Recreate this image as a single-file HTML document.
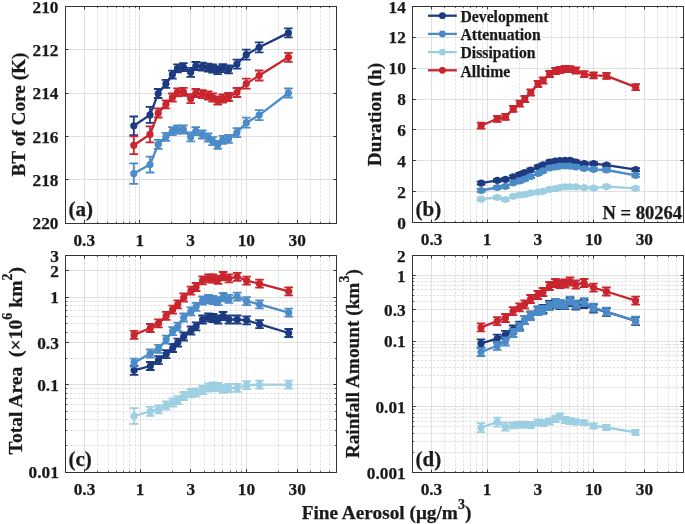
<!DOCTYPE html>
<html><head><meta charset="utf-8"><style>
html,body{margin:0;padding:0;background:#fff;width:685px;height:524px;overflow:hidden}
svg{display:block;filter:blur(0.35px)}
text{font-family:"Liberation Serif",serif;font-weight:bold;fill:#1a1a1a;stroke:#1a1a1a;stroke-width:0.25px}
.tk{font-size:17.3px}
.yl{font-size:19.3px}
.pl{font-size:21px}
.lg{font-size:15.7px}
</style></head><body>
<svg width="685" height="524" viewBox="0 0 685 524"><rect width="685" height="524" fill="#fff"/><line x1="97.50" y1="6.4" x2="97.50" y2="223.0" stroke="#d4d4d4" stroke-width="0.7" stroke-dasharray="2.5 1.5"/>
<line x1="97.50" y1="223.0" x2="97.50" y2="221.5" stroke="#333333" stroke-width="0.8"/>
<line x1="97.50" y1="6.4" x2="97.50" y2="7.9" stroke="#333333" stroke-width="0.8"/>
<line x1="107.50" y1="6.4" x2="107.50" y2="223.0" stroke="#d4d4d4" stroke-width="0.7" stroke-dasharray="2.5 1.5"/>
<line x1="107.50" y1="223.0" x2="107.50" y2="221.5" stroke="#333333" stroke-width="0.8"/>
<line x1="107.50" y1="6.4" x2="107.50" y2="7.9" stroke="#333333" stroke-width="0.8"/>
<line x1="116.50" y1="6.4" x2="116.50" y2="223.0" stroke="#d4d4d4" stroke-width="0.7" stroke-dasharray="2.5 1.5"/>
<line x1="116.50" y1="223.0" x2="116.50" y2="221.5" stroke="#333333" stroke-width="0.8"/>
<line x1="116.50" y1="6.4" x2="116.50" y2="7.9" stroke="#333333" stroke-width="0.8"/>
<line x1="123.50" y1="6.4" x2="123.50" y2="223.0" stroke="#d4d4d4" stroke-width="0.7" stroke-dasharray="2.5 1.5"/>
<line x1="123.50" y1="223.0" x2="123.50" y2="221.5" stroke="#333333" stroke-width="0.8"/>
<line x1="123.50" y1="6.4" x2="123.50" y2="7.9" stroke="#333333" stroke-width="0.8"/>
<line x1="129.50" y1="6.4" x2="129.50" y2="223.0" stroke="#d4d4d4" stroke-width="0.7" stroke-dasharray="2.5 1.5"/>
<line x1="129.50" y1="223.0" x2="129.50" y2="221.5" stroke="#333333" stroke-width="0.8"/>
<line x1="129.50" y1="6.4" x2="129.50" y2="7.9" stroke="#333333" stroke-width="0.8"/>
<line x1="135.50" y1="6.4" x2="135.50" y2="223.0" stroke="#d4d4d4" stroke-width="0.7" stroke-dasharray="2.5 1.5"/>
<line x1="135.50" y1="223.0" x2="135.50" y2="221.5" stroke="#333333" stroke-width="0.8"/>
<line x1="135.50" y1="6.4" x2="135.50" y2="7.9" stroke="#333333" stroke-width="0.8"/>
<line x1="171.50" y1="6.4" x2="171.50" y2="223.0" stroke="#d4d4d4" stroke-width="0.7" stroke-dasharray="2.5 1.5"/>
<line x1="171.50" y1="223.0" x2="171.50" y2="221.5" stroke="#333333" stroke-width="0.8"/>
<line x1="171.50" y1="6.4" x2="171.50" y2="7.9" stroke="#333333" stroke-width="0.8"/>
<line x1="203.50" y1="6.4" x2="203.50" y2="223.0" stroke="#d4d4d4" stroke-width="0.7" stroke-dasharray="2.5 1.5"/>
<line x1="203.50" y1="223.0" x2="203.50" y2="221.5" stroke="#333333" stroke-width="0.8"/>
<line x1="203.50" y1="6.4" x2="203.50" y2="7.9" stroke="#333333" stroke-width="0.8"/>
<line x1="214.50" y1="6.4" x2="214.50" y2="223.0" stroke="#d4d4d4" stroke-width="0.7" stroke-dasharray="2.5 1.5"/>
<line x1="214.50" y1="223.0" x2="214.50" y2="221.5" stroke="#333333" stroke-width="0.8"/>
<line x1="214.50" y1="6.4" x2="214.50" y2="7.9" stroke="#333333" stroke-width="0.8"/>
<line x1="222.50" y1="6.4" x2="222.50" y2="223.0" stroke="#d4d4d4" stroke-width="0.7" stroke-dasharray="2.5 1.5"/>
<line x1="222.50" y1="223.0" x2="222.50" y2="221.5" stroke="#333333" stroke-width="0.8"/>
<line x1="222.50" y1="6.4" x2="222.50" y2="7.9" stroke="#333333" stroke-width="0.8"/>
<line x1="229.50" y1="6.4" x2="229.50" y2="223.0" stroke="#d4d4d4" stroke-width="0.7" stroke-dasharray="2.5 1.5"/>
<line x1="229.50" y1="223.0" x2="229.50" y2="221.5" stroke="#333333" stroke-width="0.8"/>
<line x1="229.50" y1="6.4" x2="229.50" y2="7.9" stroke="#333333" stroke-width="0.8"/>
<line x1="236.50" y1="6.4" x2="236.50" y2="223.0" stroke="#d4d4d4" stroke-width="0.7" stroke-dasharray="2.5 1.5"/>
<line x1="236.50" y1="223.0" x2="236.50" y2="221.5" stroke="#333333" stroke-width="0.8"/>
<line x1="236.50" y1="6.4" x2="236.50" y2="7.9" stroke="#333333" stroke-width="0.8"/>
<line x1="241.50" y1="6.4" x2="241.50" y2="223.0" stroke="#d4d4d4" stroke-width="0.7" stroke-dasharray="2.5 1.5"/>
<line x1="241.50" y1="223.0" x2="241.50" y2="221.5" stroke="#333333" stroke-width="0.8"/>
<line x1="241.50" y1="6.4" x2="241.50" y2="7.9" stroke="#333333" stroke-width="0.8"/>
<line x1="278.50" y1="6.4" x2="278.50" y2="223.0" stroke="#d4d4d4" stroke-width="0.7" stroke-dasharray="2.5 1.5"/>
<line x1="278.50" y1="223.0" x2="278.50" y2="221.5" stroke="#333333" stroke-width="0.8"/>
<line x1="278.50" y1="6.4" x2="278.50" y2="7.9" stroke="#333333" stroke-width="0.8"/>
<line x1="310.50" y1="6.4" x2="310.50" y2="223.0" stroke="#d4d4d4" stroke-width="0.7" stroke-dasharray="2.5 1.5"/>
<line x1="310.50" y1="223.0" x2="310.50" y2="221.5" stroke="#333333" stroke-width="0.8"/>
<line x1="310.50" y1="6.4" x2="310.50" y2="7.9" stroke="#333333" stroke-width="0.8"/>
<line x1="320.50" y1="6.4" x2="320.50" y2="223.0" stroke="#d4d4d4" stroke-width="0.7" stroke-dasharray="2.5 1.5"/>
<line x1="320.50" y1="223.0" x2="320.50" y2="221.5" stroke="#333333" stroke-width="0.8"/>
<line x1="320.50" y1="6.4" x2="320.50" y2="7.9" stroke="#333333" stroke-width="0.8"/>
<line x1="329.50" y1="6.4" x2="329.50" y2="223.0" stroke="#d4d4d4" stroke-width="0.7" stroke-dasharray="2.5 1.5"/>
<line x1="329.50" y1="223.0" x2="329.50" y2="221.5" stroke="#333333" stroke-width="0.8"/>
<line x1="329.50" y1="6.4" x2="329.50" y2="7.9" stroke="#333333" stroke-width="0.8"/>
<line x1="84.50" y1="6.4" x2="84.50" y2="223.0" stroke="#d8d8d8" stroke-width="0.8"/>
<line x1="84.50" y1="223.0" x2="84.50" y2="220.0" stroke="#333333" stroke-width="1"/>
<line x1="84.50" y1="6.4" x2="84.50" y2="9.4" stroke="#333333" stroke-width="1"/>
<line x1="139.50" y1="6.4" x2="139.50" y2="223.0" stroke="#d8d8d8" stroke-width="0.8"/>
<line x1="139.50" y1="223.0" x2="139.50" y2="220.0" stroke="#333333" stroke-width="1"/>
<line x1="139.50" y1="6.4" x2="139.50" y2="9.4" stroke="#333333" stroke-width="1"/>
<line x1="190.50" y1="6.4" x2="190.50" y2="223.0" stroke="#d8d8d8" stroke-width="0.8"/>
<line x1="190.50" y1="223.0" x2="190.50" y2="220.0" stroke="#333333" stroke-width="1"/>
<line x1="190.50" y1="6.4" x2="190.50" y2="9.4" stroke="#333333" stroke-width="1"/>
<line x1="246.50" y1="6.4" x2="246.50" y2="223.0" stroke="#d8d8d8" stroke-width="0.8"/>
<line x1="246.50" y1="223.0" x2="246.50" y2="220.0" stroke="#333333" stroke-width="1"/>
<line x1="246.50" y1="6.4" x2="246.50" y2="9.4" stroke="#333333" stroke-width="1"/>
<line x1="297.50" y1="6.4" x2="297.50" y2="223.0" stroke="#d8d8d8" stroke-width="0.8"/>
<line x1="297.50" y1="223.0" x2="297.50" y2="220.0" stroke="#333333" stroke-width="1"/>
<line x1="297.50" y1="6.4" x2="297.50" y2="9.4" stroke="#333333" stroke-width="1"/>
<line x1="65.5" y1="49.50" x2="336.3" y2="49.50" stroke="#d8d8d8" stroke-width="0.8"/>
<line x1="65.5" y1="49.50" x2="68.5" y2="49.50" stroke="#333333" stroke-width="1"/>
<line x1="336.3" y1="49.50" x2="333.3" y2="49.50" stroke="#333333" stroke-width="1"/>
<line x1="65.5" y1="93.50" x2="336.3" y2="93.50" stroke="#d8d8d8" stroke-width="0.8"/>
<line x1="65.5" y1="93.50" x2="68.5" y2="93.50" stroke="#333333" stroke-width="1"/>
<line x1="336.3" y1="93.50" x2="333.3" y2="93.50" stroke="#333333" stroke-width="1"/>
<line x1="65.5" y1="136.50" x2="336.3" y2="136.50" stroke="#d8d8d8" stroke-width="0.8"/>
<line x1="65.5" y1="136.50" x2="68.5" y2="136.50" stroke="#333333" stroke-width="1"/>
<line x1="336.3" y1="136.50" x2="333.3" y2="136.50" stroke="#333333" stroke-width="1"/>
<line x1="65.5" y1="179.50" x2="336.3" y2="179.50" stroke="#d8d8d8" stroke-width="0.8"/>
<line x1="65.5" y1="179.50" x2="68.5" y2="179.50" stroke="#333333" stroke-width="1"/>
<line x1="336.3" y1="179.50" x2="333.3" y2="179.50" stroke="#333333" stroke-width="1"/><text x="84.24" y="245.5" text-anchor="middle" class="tk">0.3</text><text x="139.90" y="245.5" text-anchor="middle" class="tk">1</text><text x="190.69" y="245.5" text-anchor="middle" class="tk">3</text><text x="246.34" y="245.5" text-anchor="middle" class="tk">10</text><text x="297.13" y="245.5" text-anchor="middle" class="tk">30</text><text x="58.5" y="12.60" text-anchor="end" class="tk">210</text><text x="58.5" y="55.92" text-anchor="end" class="tk">212</text><text x="58.5" y="99.24" text-anchor="end" class="tk">214</text><text x="58.5" y="142.56" text-anchor="end" class="tk">216</text><text x="58.5" y="185.88" text-anchor="end" class="tk">218</text><text x="58.5" y="229.20" text-anchor="end" class="tk">220</text><polyline points="133.80,125.80 150.00,114.90 158.20,93.50 165.90,83.80 172.40,74.60 177.50,68.30 183.40,67.20 190.70,72.30 195.80,66.00 202.30,66.60 208.20,67.70 212.60,68.50 217.70,70.10 222.80,68.10 228.60,69.40 236.90,64.10 246.30,54.70 259.20,47.30 288.40,32.90" fill="none" stroke="#1c3a80" stroke-width="2.3" stroke-linejoin="round"/>
<path d="M133.80,116.50V135.10M129.50,116.50H138.10M129.50,135.10H138.10" stroke="#1c3a80" stroke-width="1.8" fill="none"/>
<circle cx="133.80" cy="125.80" r="3.6" fill="#1c3a80"/>
<path d="M150.00,106.90V122.90M145.70,106.90H154.30M145.70,122.90H154.30" stroke="#1c3a80" stroke-width="1.8" fill="none"/>
<circle cx="150.00" cy="114.90" r="3.6" fill="#1c3a80"/>
<path d="M158.20,89.00V98.00M153.90,89.00H162.50M153.90,98.00H162.50" stroke="#1c3a80" stroke-width="1.8" fill="none"/>
<circle cx="158.20" cy="93.50" r="3.6" fill="#1c3a80"/>
<path d="M165.90,79.80V87.80M161.60,79.80H170.20M161.60,87.80H170.20" stroke="#1c3a80" stroke-width="1.8" fill="none"/>
<circle cx="165.90" cy="83.80" r="3.6" fill="#1c3a80"/>
<path d="M172.40,70.60V78.60M168.10,70.60H176.70M168.10,78.60H176.70" stroke="#1c3a80" stroke-width="1.8" fill="none"/>
<circle cx="172.40" cy="74.60" r="3.6" fill="#1c3a80"/>
<path d="M177.50,64.30V72.30M173.20,64.30H181.80M173.20,72.30H181.80" stroke="#1c3a80" stroke-width="1.8" fill="none"/>
<circle cx="177.50" cy="68.30" r="3.6" fill="#1c3a80"/>
<path d="M183.40,63.20V71.20M179.10,63.20H187.70M179.10,71.20H187.70" stroke="#1c3a80" stroke-width="1.8" fill="none"/>
<circle cx="183.40" cy="67.20" r="3.6" fill="#1c3a80"/>
<path d="M190.70,67.80V76.80M186.40,67.80H195.00M186.40,76.80H195.00" stroke="#1c3a80" stroke-width="1.8" fill="none"/>
<circle cx="190.70" cy="72.30" r="3.6" fill="#1c3a80"/>
<path d="M195.80,62.00V70.00M191.50,62.00H200.10M191.50,70.00H200.10" stroke="#1c3a80" stroke-width="1.8" fill="none"/>
<circle cx="195.80" cy="66.00" r="3.6" fill="#1c3a80"/>
<path d="M202.30,62.60V70.60M198.00,62.60H206.60M198.00,70.60H206.60" stroke="#1c3a80" stroke-width="1.8" fill="none"/>
<circle cx="202.30" cy="66.60" r="3.6" fill="#1c3a80"/>
<path d="M208.20,63.70V71.70M203.90,63.70H212.50M203.90,71.70H212.50" stroke="#1c3a80" stroke-width="1.8" fill="none"/>
<circle cx="208.20" cy="67.70" r="3.6" fill="#1c3a80"/>
<path d="M212.60,64.50V72.50M208.30,64.50H216.90M208.30,72.50H216.90" stroke="#1c3a80" stroke-width="1.8" fill="none"/>
<circle cx="212.60" cy="68.50" r="3.6" fill="#1c3a80"/>
<path d="M217.70,66.10V74.10M213.40,66.10H222.00M213.40,74.10H222.00" stroke="#1c3a80" stroke-width="1.8" fill="none"/>
<circle cx="217.70" cy="70.10" r="3.6" fill="#1c3a80"/>
<path d="M222.80,64.10V72.10M218.50,64.10H227.10M218.50,72.10H227.10" stroke="#1c3a80" stroke-width="1.8" fill="none"/>
<circle cx="222.80" cy="68.10" r="3.6" fill="#1c3a80"/>
<path d="M228.60,65.40V73.40M224.30,65.40H232.90M224.30,73.40H232.90" stroke="#1c3a80" stroke-width="1.8" fill="none"/>
<circle cx="228.60" cy="69.40" r="3.6" fill="#1c3a80"/>
<path d="M236.90,59.60V68.60M232.60,59.60H241.20M232.60,68.60H241.20" stroke="#1c3a80" stroke-width="1.8" fill="none"/>
<circle cx="236.90" cy="64.10" r="3.6" fill="#1c3a80"/>
<path d="M246.30,49.70V59.70M242.00,49.70H250.60M242.00,59.70H250.60" stroke="#1c3a80" stroke-width="1.8" fill="none"/>
<circle cx="246.30" cy="54.70" r="3.6" fill="#1c3a80"/>
<path d="M259.20,42.30V52.30M254.90,42.30H263.50M254.90,52.30H263.50" stroke="#1c3a80" stroke-width="1.8" fill="none"/>
<circle cx="259.20" cy="47.30" r="3.6" fill="#1c3a80"/>
<path d="M288.40,28.40V37.40M284.10,28.40H292.70M284.10,37.40H292.70" stroke="#1c3a80" stroke-width="1.8" fill="none"/>
<circle cx="288.40" cy="32.90" r="3.6" fill="#1c3a80"/><polyline points="133.80,173.60 150.00,164.60 158.20,144.40 165.90,136.90 172.40,131.20 177.50,129.50 183.40,129.50 190.70,136.90 195.80,131.20 202.30,134.50 208.20,137.50 212.60,141.10 217.70,144.90 222.80,139.80 228.60,138.80 236.90,132.70 246.30,122.70 259.20,115.10 288.40,93.00" fill="none" stroke="#4b8bc7" stroke-width="2.3" stroke-linejoin="round"/>
<path d="M133.80,163.30V183.90M129.50,163.30H138.10M129.50,183.90H138.10" stroke="#4b8bc7" stroke-width="1.8" fill="none"/>
<circle cx="133.80" cy="173.60" r="3.6" fill="#4b8bc7"/>
<path d="M150.00,156.70V172.50M145.70,156.70H154.30M145.70,172.50H154.30" stroke="#4b8bc7" stroke-width="1.8" fill="none"/>
<circle cx="150.00" cy="164.60" r="3.6" fill="#4b8bc7"/>
<path d="M158.20,139.90V148.90M153.90,139.90H162.50M153.90,148.90H162.50" stroke="#4b8bc7" stroke-width="1.8" fill="none"/>
<circle cx="158.20" cy="144.40" r="3.6" fill="#4b8bc7"/>
<path d="M165.90,132.90V140.90M161.60,132.90H170.20M161.60,140.90H170.20" stroke="#4b8bc7" stroke-width="1.8" fill="none"/>
<circle cx="165.90" cy="136.90" r="3.6" fill="#4b8bc7"/>
<path d="M172.40,127.20V135.20M168.10,127.20H176.70M168.10,135.20H176.70" stroke="#4b8bc7" stroke-width="1.8" fill="none"/>
<circle cx="172.40" cy="131.20" r="3.6" fill="#4b8bc7"/>
<path d="M177.50,125.50V133.50M173.20,125.50H181.80M173.20,133.50H181.80" stroke="#4b8bc7" stroke-width="1.8" fill="none"/>
<circle cx="177.50" cy="129.50" r="3.6" fill="#4b8bc7"/>
<path d="M183.40,125.50V133.50M179.10,125.50H187.70M179.10,133.50H187.70" stroke="#4b8bc7" stroke-width="1.8" fill="none"/>
<circle cx="183.40" cy="129.50" r="3.6" fill="#4b8bc7"/>
<path d="M190.70,132.40V141.40M186.40,132.40H195.00M186.40,141.40H195.00" stroke="#4b8bc7" stroke-width="1.8" fill="none"/>
<circle cx="190.70" cy="136.90" r="3.6" fill="#4b8bc7"/>
<path d="M195.80,127.20V135.20M191.50,127.20H200.10M191.50,135.20H200.10" stroke="#4b8bc7" stroke-width="1.8" fill="none"/>
<circle cx="195.80" cy="131.20" r="3.6" fill="#4b8bc7"/>
<path d="M202.30,130.50V138.50M198.00,130.50H206.60M198.00,138.50H206.60" stroke="#4b8bc7" stroke-width="1.8" fill="none"/>
<circle cx="202.30" cy="134.50" r="3.6" fill="#4b8bc7"/>
<path d="M208.20,133.50V141.50M203.90,133.50H212.50M203.90,141.50H212.50" stroke="#4b8bc7" stroke-width="1.8" fill="none"/>
<circle cx="208.20" cy="137.50" r="3.6" fill="#4b8bc7"/>
<path d="M212.60,137.10V145.10M208.30,137.10H216.90M208.30,145.10H216.90" stroke="#4b8bc7" stroke-width="1.8" fill="none"/>
<circle cx="212.60" cy="141.10" r="3.6" fill="#4b8bc7"/>
<path d="M217.70,140.90V148.90M213.40,140.90H222.00M213.40,148.90H222.00" stroke="#4b8bc7" stroke-width="1.8" fill="none"/>
<circle cx="217.70" cy="144.90" r="3.6" fill="#4b8bc7"/>
<path d="M222.80,135.80V143.80M218.50,135.80H227.10M218.50,143.80H227.10" stroke="#4b8bc7" stroke-width="1.8" fill="none"/>
<circle cx="222.80" cy="139.80" r="3.6" fill="#4b8bc7"/>
<path d="M228.60,134.80V142.80M224.30,134.80H232.90M224.30,142.80H232.90" stroke="#4b8bc7" stroke-width="1.8" fill="none"/>
<circle cx="228.60" cy="138.80" r="3.6" fill="#4b8bc7"/>
<path d="M236.90,128.20V137.20M232.60,128.20H241.20M232.60,137.20H241.20" stroke="#4b8bc7" stroke-width="1.8" fill="none"/>
<circle cx="236.90" cy="132.70" r="3.6" fill="#4b8bc7"/>
<path d="M246.30,117.70V127.70M242.00,117.70H250.60M242.00,127.70H250.60" stroke="#4b8bc7" stroke-width="1.8" fill="none"/>
<circle cx="246.30" cy="122.70" r="3.6" fill="#4b8bc7"/>
<path d="M259.20,110.10V120.10M254.90,110.10H263.50M254.90,120.10H263.50" stroke="#4b8bc7" stroke-width="1.8" fill="none"/>
<circle cx="259.20" cy="115.10" r="3.6" fill="#4b8bc7"/>
<path d="M288.40,88.50V97.50M284.10,88.50H292.70M284.10,97.50H292.70" stroke="#4b8bc7" stroke-width="1.8" fill="none"/>
<circle cx="288.40" cy="93.00" r="3.6" fill="#4b8bc7"/><polyline points="133.80,145.30 150.00,134.40 158.20,113.00 165.90,104.30 172.40,97.50 177.50,92.40 183.40,91.80 190.70,98.70 195.80,93.00 202.30,94.10 208.20,95.50 212.60,97.50 217.70,100.50 222.80,98.50 228.60,97.00 236.90,92.50 246.30,83.60 259.20,75.50 288.40,57.30" fill="none" stroke="#c9252f" stroke-width="2.3" stroke-linejoin="round"/>
<path d="M133.80,136.40V154.20M129.50,136.40H138.10M129.50,154.20H138.10" stroke="#c9252f" stroke-width="1.8" fill="none"/>
<circle cx="133.80" cy="145.30" r="3.6" fill="#c9252f"/>
<path d="M150.00,126.40V142.40M145.70,126.40H154.30M145.70,142.40H154.30" stroke="#c9252f" stroke-width="1.8" fill="none"/>
<circle cx="150.00" cy="134.40" r="3.6" fill="#c9252f"/>
<path d="M158.20,108.50V117.50M153.90,108.50H162.50M153.90,117.50H162.50" stroke="#c9252f" stroke-width="1.8" fill="none"/>
<circle cx="158.20" cy="113.00" r="3.6" fill="#c9252f"/>
<path d="M165.90,100.30V108.30M161.60,100.30H170.20M161.60,108.30H170.20" stroke="#c9252f" stroke-width="1.8" fill="none"/>
<circle cx="165.90" cy="104.30" r="3.6" fill="#c9252f"/>
<path d="M172.40,93.50V101.50M168.10,93.50H176.70M168.10,101.50H176.70" stroke="#c9252f" stroke-width="1.8" fill="none"/>
<circle cx="172.40" cy="97.50" r="3.6" fill="#c9252f"/>
<path d="M177.50,88.40V96.40M173.20,88.40H181.80M173.20,96.40H181.80" stroke="#c9252f" stroke-width="1.8" fill="none"/>
<circle cx="177.50" cy="92.40" r="3.6" fill="#c9252f"/>
<path d="M183.40,87.80V95.80M179.10,87.80H187.70M179.10,95.80H187.70" stroke="#c9252f" stroke-width="1.8" fill="none"/>
<circle cx="183.40" cy="91.80" r="3.6" fill="#c9252f"/>
<path d="M190.70,94.20V103.20M186.40,94.20H195.00M186.40,103.20H195.00" stroke="#c9252f" stroke-width="1.8" fill="none"/>
<circle cx="190.70" cy="98.70" r="3.6" fill="#c9252f"/>
<path d="M195.80,89.00V97.00M191.50,89.00H200.10M191.50,97.00H200.10" stroke="#c9252f" stroke-width="1.8" fill="none"/>
<circle cx="195.80" cy="93.00" r="3.6" fill="#c9252f"/>
<path d="M202.30,90.10V98.10M198.00,90.10H206.60M198.00,98.10H206.60" stroke="#c9252f" stroke-width="1.8" fill="none"/>
<circle cx="202.30" cy="94.10" r="3.6" fill="#c9252f"/>
<path d="M208.20,91.50V99.50M203.90,91.50H212.50M203.90,99.50H212.50" stroke="#c9252f" stroke-width="1.8" fill="none"/>
<circle cx="208.20" cy="95.50" r="3.6" fill="#c9252f"/>
<path d="M212.60,93.50V101.50M208.30,93.50H216.90M208.30,101.50H216.90" stroke="#c9252f" stroke-width="1.8" fill="none"/>
<circle cx="212.60" cy="97.50" r="3.6" fill="#c9252f"/>
<path d="M217.70,96.50V104.50M213.40,96.50H222.00M213.40,104.50H222.00" stroke="#c9252f" stroke-width="1.8" fill="none"/>
<circle cx="217.70" cy="100.50" r="3.6" fill="#c9252f"/>
<path d="M222.80,94.50V102.50M218.50,94.50H227.10M218.50,102.50H227.10" stroke="#c9252f" stroke-width="1.8" fill="none"/>
<circle cx="222.80" cy="98.50" r="3.6" fill="#c9252f"/>
<path d="M228.60,93.00V101.00M224.30,93.00H232.90M224.30,101.00H232.90" stroke="#c9252f" stroke-width="1.8" fill="none"/>
<circle cx="228.60" cy="97.00" r="3.6" fill="#c9252f"/>
<path d="M236.90,88.00V97.00M232.60,88.00H241.20M232.60,97.00H241.20" stroke="#c9252f" stroke-width="1.8" fill="none"/>
<circle cx="236.90" cy="92.50" r="3.6" fill="#c9252f"/>
<path d="M246.30,78.60V88.60M242.00,78.60H250.60M242.00,88.60H250.60" stroke="#c9252f" stroke-width="1.8" fill="none"/>
<circle cx="246.30" cy="83.60" r="3.6" fill="#c9252f"/>
<path d="M259.20,70.50V80.50M254.90,70.50H263.50M254.90,80.50H263.50" stroke="#c9252f" stroke-width="1.8" fill="none"/>
<circle cx="259.20" cy="75.50" r="3.6" fill="#c9252f"/>
<path d="M288.40,52.80V61.80M284.10,52.80H292.70M284.10,61.80H292.70" stroke="#c9252f" stroke-width="1.8" fill="none"/>
<circle cx="288.40" cy="57.30" r="3.6" fill="#c9252f"/><rect x="65.5" y="6.5" width="271.0" height="217.0" fill="none" stroke="#333333" stroke-width="1.0"/><line x1="444.50" y1="6.4" x2="444.50" y2="222.6" stroke="#d4d4d4" stroke-width="0.7" stroke-dasharray="2.5 1.5"/>
<line x1="444.50" y1="222.6" x2="444.50" y2="221.1" stroke="#333333" stroke-width="0.8"/>
<line x1="444.50" y1="6.4" x2="444.50" y2="7.9" stroke="#333333" stroke-width="0.8"/>
<line x1="455.50" y1="6.4" x2="455.50" y2="222.6" stroke="#d4d4d4" stroke-width="0.7" stroke-dasharray="2.5 1.5"/>
<line x1="455.50" y1="222.6" x2="455.50" y2="221.1" stroke="#333333" stroke-width="0.8"/>
<line x1="455.50" y1="6.4" x2="455.50" y2="7.9" stroke="#333333" stroke-width="0.8"/>
<line x1="463.50" y1="6.4" x2="463.50" y2="222.6" stroke="#d4d4d4" stroke-width="0.7" stroke-dasharray="2.5 1.5"/>
<line x1="463.50" y1="222.6" x2="463.50" y2="221.1" stroke="#333333" stroke-width="0.8"/>
<line x1="463.50" y1="6.4" x2="463.50" y2="7.9" stroke="#333333" stroke-width="0.8"/>
<line x1="470.50" y1="6.4" x2="470.50" y2="222.6" stroke="#d4d4d4" stroke-width="0.7" stroke-dasharray="2.5 1.5"/>
<line x1="470.50" y1="222.6" x2="470.50" y2="221.1" stroke="#333333" stroke-width="0.8"/>
<line x1="470.50" y1="6.4" x2="470.50" y2="7.9" stroke="#333333" stroke-width="0.8"/>
<line x1="476.50" y1="6.4" x2="476.50" y2="222.6" stroke="#d4d4d4" stroke-width="0.7" stroke-dasharray="2.5 1.5"/>
<line x1="476.50" y1="222.6" x2="476.50" y2="221.1" stroke="#333333" stroke-width="0.8"/>
<line x1="476.50" y1="6.4" x2="476.50" y2="7.9" stroke="#333333" stroke-width="0.8"/>
<line x1="482.50" y1="6.4" x2="482.50" y2="222.6" stroke="#d4d4d4" stroke-width="0.7" stroke-dasharray="2.5 1.5"/>
<line x1="482.50" y1="222.6" x2="482.50" y2="221.1" stroke="#333333" stroke-width="0.8"/>
<line x1="482.50" y1="6.4" x2="482.50" y2="7.9" stroke="#333333" stroke-width="0.8"/>
<line x1="519.50" y1="6.4" x2="519.50" y2="222.6" stroke="#d4d4d4" stroke-width="0.7" stroke-dasharray="2.5 1.5"/>
<line x1="519.50" y1="222.6" x2="519.50" y2="221.1" stroke="#333333" stroke-width="0.8"/>
<line x1="519.50" y1="6.4" x2="519.50" y2="7.9" stroke="#333333" stroke-width="0.8"/>
<line x1="551.50" y1="6.4" x2="551.50" y2="222.6" stroke="#d4d4d4" stroke-width="0.7" stroke-dasharray="2.5 1.5"/>
<line x1="551.50" y1="222.6" x2="551.50" y2="221.1" stroke="#333333" stroke-width="0.8"/>
<line x1="551.50" y1="6.4" x2="551.50" y2="7.9" stroke="#333333" stroke-width="0.8"/>
<line x1="561.50" y1="6.4" x2="561.50" y2="222.6" stroke="#d4d4d4" stroke-width="0.7" stroke-dasharray="2.5 1.5"/>
<line x1="561.50" y1="222.6" x2="561.50" y2="221.1" stroke="#333333" stroke-width="0.8"/>
<line x1="561.50" y1="6.4" x2="561.50" y2="7.9" stroke="#333333" stroke-width="0.8"/>
<line x1="569.50" y1="6.4" x2="569.50" y2="222.6" stroke="#d4d4d4" stroke-width="0.7" stroke-dasharray="2.5 1.5"/>
<line x1="569.50" y1="222.6" x2="569.50" y2="221.1" stroke="#333333" stroke-width="0.8"/>
<line x1="569.50" y1="6.4" x2="569.50" y2="7.9" stroke="#333333" stroke-width="0.8"/>
<line x1="577.50" y1="6.4" x2="577.50" y2="222.6" stroke="#d4d4d4" stroke-width="0.7" stroke-dasharray="2.5 1.5"/>
<line x1="577.50" y1="222.6" x2="577.50" y2="221.1" stroke="#333333" stroke-width="0.8"/>
<line x1="577.50" y1="6.4" x2="577.50" y2="7.9" stroke="#333333" stroke-width="0.8"/>
<line x1="583.50" y1="6.4" x2="583.50" y2="222.6" stroke="#d4d4d4" stroke-width="0.7" stroke-dasharray="2.5 1.5"/>
<line x1="583.50" y1="222.6" x2="583.50" y2="221.1" stroke="#333333" stroke-width="0.8"/>
<line x1="583.50" y1="6.4" x2="583.50" y2="7.9" stroke="#333333" stroke-width="0.8"/>
<line x1="588.50" y1="6.4" x2="588.50" y2="222.6" stroke="#d4d4d4" stroke-width="0.7" stroke-dasharray="2.5 1.5"/>
<line x1="588.50" y1="222.6" x2="588.50" y2="221.1" stroke="#333333" stroke-width="0.8"/>
<line x1="588.50" y1="6.4" x2="588.50" y2="7.9" stroke="#333333" stroke-width="0.8"/>
<line x1="625.50" y1="6.4" x2="625.50" y2="222.6" stroke="#d4d4d4" stroke-width="0.7" stroke-dasharray="2.5 1.5"/>
<line x1="625.50" y1="222.6" x2="625.50" y2="221.1" stroke="#333333" stroke-width="0.8"/>
<line x1="625.50" y1="6.4" x2="625.50" y2="7.9" stroke="#333333" stroke-width="0.8"/>
<line x1="657.50" y1="6.4" x2="657.50" y2="222.6" stroke="#d4d4d4" stroke-width="0.7" stroke-dasharray="2.5 1.5"/>
<line x1="657.50" y1="222.6" x2="657.50" y2="221.1" stroke="#333333" stroke-width="0.8"/>
<line x1="657.50" y1="6.4" x2="657.50" y2="7.9" stroke="#333333" stroke-width="0.8"/>
<line x1="667.50" y1="6.4" x2="667.50" y2="222.6" stroke="#d4d4d4" stroke-width="0.7" stroke-dasharray="2.5 1.5"/>
<line x1="667.50" y1="222.6" x2="667.50" y2="221.1" stroke="#333333" stroke-width="0.8"/>
<line x1="667.50" y1="6.4" x2="667.50" y2="7.9" stroke="#333333" stroke-width="0.8"/>
<line x1="676.50" y1="6.4" x2="676.50" y2="222.6" stroke="#d4d4d4" stroke-width="0.7" stroke-dasharray="2.5 1.5"/>
<line x1="676.50" y1="222.6" x2="676.50" y2="221.1" stroke="#333333" stroke-width="0.8"/>
<line x1="676.50" y1="6.4" x2="676.50" y2="7.9" stroke="#333333" stroke-width="0.8"/>
<line x1="431.50" y1="6.4" x2="431.50" y2="222.6" stroke="#d8d8d8" stroke-width="0.8"/>
<line x1="431.50" y1="222.6" x2="431.50" y2="219.6" stroke="#333333" stroke-width="1"/>
<line x1="431.50" y1="6.4" x2="431.50" y2="9.4" stroke="#333333" stroke-width="1"/>
<line x1="487.50" y1="6.4" x2="487.50" y2="222.6" stroke="#d8d8d8" stroke-width="0.8"/>
<line x1="487.50" y1="222.6" x2="487.50" y2="219.6" stroke="#333333" stroke-width="1"/>
<line x1="487.50" y1="6.4" x2="487.50" y2="9.4" stroke="#333333" stroke-width="1"/>
<line x1="537.50" y1="6.4" x2="537.50" y2="222.6" stroke="#d8d8d8" stroke-width="0.8"/>
<line x1="537.50" y1="222.6" x2="537.50" y2="219.6" stroke="#333333" stroke-width="1"/>
<line x1="537.50" y1="6.4" x2="537.50" y2="9.4" stroke="#333333" stroke-width="1"/>
<line x1="593.50" y1="6.4" x2="593.50" y2="222.6" stroke="#d8d8d8" stroke-width="0.8"/>
<line x1="593.50" y1="222.6" x2="593.50" y2="219.6" stroke="#333333" stroke-width="1"/>
<line x1="593.50" y1="6.4" x2="593.50" y2="9.4" stroke="#333333" stroke-width="1"/>
<line x1="644.50" y1="6.4" x2="644.50" y2="222.6" stroke="#d8d8d8" stroke-width="0.8"/>
<line x1="644.50" y1="222.6" x2="644.50" y2="219.6" stroke="#333333" stroke-width="1"/>
<line x1="644.50" y1="6.4" x2="644.50" y2="9.4" stroke="#333333" stroke-width="1"/>
<line x1="412.8" y1="191.50" x2="683.5" y2="191.50" stroke="#d8d8d8" stroke-width="0.8"/>
<line x1="412.8" y1="191.50" x2="415.8" y2="191.50" stroke="#333333" stroke-width="1"/>
<line x1="683.5" y1="191.50" x2="680.5" y2="191.50" stroke="#333333" stroke-width="1"/>
<line x1="412.8" y1="160.50" x2="683.5" y2="160.50" stroke="#d8d8d8" stroke-width="0.8"/>
<line x1="412.8" y1="160.50" x2="415.8" y2="160.50" stroke="#333333" stroke-width="1"/>
<line x1="683.5" y1="160.50" x2="680.5" y2="160.50" stroke="#333333" stroke-width="1"/>
<line x1="412.8" y1="129.50" x2="683.5" y2="129.50" stroke="#d8d8d8" stroke-width="0.8"/>
<line x1="412.8" y1="129.50" x2="415.8" y2="129.50" stroke="#333333" stroke-width="1"/>
<line x1="683.5" y1="129.50" x2="680.5" y2="129.50" stroke="#333333" stroke-width="1"/>
<line x1="412.8" y1="99.50" x2="683.5" y2="99.50" stroke="#d8d8d8" stroke-width="0.8"/>
<line x1="412.8" y1="99.50" x2="415.8" y2="99.50" stroke="#333333" stroke-width="1"/>
<line x1="683.5" y1="99.50" x2="680.5" y2="99.50" stroke="#333333" stroke-width="1"/>
<line x1="412.8" y1="68.50" x2="683.5" y2="68.50" stroke="#d8d8d8" stroke-width="0.8"/>
<line x1="412.8" y1="68.50" x2="415.8" y2="68.50" stroke="#333333" stroke-width="1"/>
<line x1="683.5" y1="68.50" x2="680.5" y2="68.50" stroke="#333333" stroke-width="1"/>
<line x1="412.8" y1="37.50" x2="683.5" y2="37.50" stroke="#d8d8d8" stroke-width="0.8"/>
<line x1="412.8" y1="37.50" x2="415.8" y2="37.50" stroke="#333333" stroke-width="1"/>
<line x1="683.5" y1="37.50" x2="680.5" y2="37.50" stroke="#333333" stroke-width="1"/><text x="431.54" y="245.1" text-anchor="middle" class="tk">0.3</text><text x="487.17" y="245.1" text-anchor="middle" class="tk">1</text><text x="537.94" y="245.1" text-anchor="middle" class="tk">3</text><text x="593.58" y="245.1" text-anchor="middle" class="tk">10</text><text x="644.35" y="245.1" text-anchor="middle" class="tk">30</text><text x="405.8" y="228.80" text-anchor="end" class="tk">0</text><text x="405.8" y="197.91" text-anchor="end" class="tk">2</text><text x="405.8" y="167.03" text-anchor="end" class="tk">4</text><text x="405.8" y="136.14" text-anchor="end" class="tk">6</text><text x="405.8" y="105.26" text-anchor="end" class="tk">8</text><text x="405.8" y="74.37" text-anchor="end" class="tk">10</text><text x="405.8" y="43.49" text-anchor="end" class="tk">12</text><text x="405.8" y="12.60" text-anchor="end" class="tk">14</text><polyline points="481.10,183.10 497.30,180.30 505.50,179.40 513.20,176.80 519.70,174.50 524.80,172.50 530.70,170.00 538.00,167.00 543.10,164.80 549.60,162.00 555.50,161.00 559.90,160.50 565.00,160.40 570.10,160.40 575.90,162.00 584.20,163.70 593.60,163.60 606.50,165.10 635.70,169.70" fill="none" stroke="#1c3a80" stroke-width="2.3" stroke-linejoin="round"/>
<path d="M481.10,181.60V184.60M476.80,181.60H485.40M476.80,184.60H485.40" stroke="#1c3a80" stroke-width="1.8" fill="none"/>
<circle cx="481.10" cy="183.10" r="3.6" fill="#1c3a80"/>
<path d="M497.30,178.80V181.80M493.00,178.80H501.60M493.00,181.80H501.60" stroke="#1c3a80" stroke-width="1.8" fill="none"/>
<circle cx="497.30" cy="180.30" r="3.6" fill="#1c3a80"/>
<path d="M505.50,177.90V180.90M501.20,177.90H509.80M501.20,180.90H509.80" stroke="#1c3a80" stroke-width="1.8" fill="none"/>
<circle cx="505.50" cy="179.40" r="3.6" fill="#1c3a80"/>
<path d="M513.20,175.30V178.30M508.90,175.30H517.50M508.90,178.30H517.50" stroke="#1c3a80" stroke-width="1.8" fill="none"/>
<circle cx="513.20" cy="176.80" r="3.6" fill="#1c3a80"/>
<path d="M519.70,173.00V176.00M515.40,173.00H524.00M515.40,176.00H524.00" stroke="#1c3a80" stroke-width="1.8" fill="none"/>
<circle cx="519.70" cy="174.50" r="3.6" fill="#1c3a80"/>
<path d="M524.80,171.00V174.00M520.50,171.00H529.10M520.50,174.00H529.10" stroke="#1c3a80" stroke-width="1.8" fill="none"/>
<circle cx="524.80" cy="172.50" r="3.6" fill="#1c3a80"/>
<path d="M530.70,168.50V171.50M526.40,168.50H535.00M526.40,171.50H535.00" stroke="#1c3a80" stroke-width="1.8" fill="none"/>
<circle cx="530.70" cy="170.00" r="3.6" fill="#1c3a80"/>
<path d="M538.00,165.50V168.50M533.70,165.50H542.30M533.70,168.50H542.30" stroke="#1c3a80" stroke-width="1.8" fill="none"/>
<circle cx="538.00" cy="167.00" r="3.6" fill="#1c3a80"/>
<path d="M543.10,163.30V166.30M538.80,163.30H547.40M538.80,166.30H547.40" stroke="#1c3a80" stroke-width="1.8" fill="none"/>
<circle cx="543.10" cy="164.80" r="3.6" fill="#1c3a80"/>
<path d="M549.60,160.50V163.50M545.30,160.50H553.90M545.30,163.50H553.90" stroke="#1c3a80" stroke-width="1.8" fill="none"/>
<circle cx="549.60" cy="162.00" r="3.6" fill="#1c3a80"/>
<path d="M555.50,159.50V162.50M551.20,159.50H559.80M551.20,162.50H559.80" stroke="#1c3a80" stroke-width="1.8" fill="none"/>
<circle cx="555.50" cy="161.00" r="3.6" fill="#1c3a80"/>
<path d="M559.90,159.00V162.00M555.60,159.00H564.20M555.60,162.00H564.20" stroke="#1c3a80" stroke-width="1.8" fill="none"/>
<circle cx="559.90" cy="160.50" r="3.6" fill="#1c3a80"/>
<path d="M565.00,158.90V161.90M560.70,158.90H569.30M560.70,161.90H569.30" stroke="#1c3a80" stroke-width="1.8" fill="none"/>
<circle cx="565.00" cy="160.40" r="3.6" fill="#1c3a80"/>
<path d="M570.10,158.90V161.90M565.80,158.90H574.40M565.80,161.90H574.40" stroke="#1c3a80" stroke-width="1.8" fill="none"/>
<circle cx="570.10" cy="160.40" r="3.6" fill="#1c3a80"/>
<path d="M575.90,160.50V163.50M571.60,160.50H580.20M571.60,163.50H580.20" stroke="#1c3a80" stroke-width="1.8" fill="none"/>
<circle cx="575.90" cy="162.00" r="3.6" fill="#1c3a80"/>
<path d="M584.20,162.20V165.20M579.90,162.20H588.50M579.90,165.20H588.50" stroke="#1c3a80" stroke-width="1.8" fill="none"/>
<circle cx="584.20" cy="163.70" r="3.6" fill="#1c3a80"/>
<path d="M593.60,162.10V165.10M589.30,162.10H597.90M589.30,165.10H597.90" stroke="#1c3a80" stroke-width="1.8" fill="none"/>
<circle cx="593.60" cy="163.60" r="3.6" fill="#1c3a80"/>
<path d="M606.50,163.60V166.60M602.20,163.60H610.80M602.20,166.60H610.80" stroke="#1c3a80" stroke-width="1.8" fill="none"/>
<circle cx="606.50" cy="165.10" r="3.6" fill="#1c3a80"/>
<path d="M635.70,168.20V171.20M631.40,168.20H640.00M631.40,171.20H640.00" stroke="#1c3a80" stroke-width="1.8" fill="none"/>
<circle cx="635.70" cy="169.70" r="3.6" fill="#1c3a80"/><polyline points="481.10,190.50 497.30,187.50 505.50,186.40 513.20,182.90 519.70,181.00 524.80,179.00 530.70,176.50 538.00,173.50 543.10,170.80 549.60,168.00 555.50,167.00 559.90,166.20 565.00,166.00 570.10,166.20 575.90,167.00 584.20,168.50 593.60,169.30 606.50,170.00 635.70,175.40" fill="none" stroke="#4b8bc7" stroke-width="2.3" stroke-linejoin="round"/>
<path d="M481.10,189.00V192.00M476.80,189.00H485.40M476.80,192.00H485.40" stroke="#4b8bc7" stroke-width="1.8" fill="none"/>
<circle cx="481.10" cy="190.50" r="3.6" fill="#4b8bc7"/>
<path d="M497.30,186.00V189.00M493.00,186.00H501.60M493.00,189.00H501.60" stroke="#4b8bc7" stroke-width="1.8" fill="none"/>
<circle cx="497.30" cy="187.50" r="3.6" fill="#4b8bc7"/>
<path d="M505.50,184.90V187.90M501.20,184.90H509.80M501.20,187.90H509.80" stroke="#4b8bc7" stroke-width="1.8" fill="none"/>
<circle cx="505.50" cy="186.40" r="3.6" fill="#4b8bc7"/>
<path d="M513.20,181.40V184.40M508.90,181.40H517.50M508.90,184.40H517.50" stroke="#4b8bc7" stroke-width="1.8" fill="none"/>
<circle cx="513.20" cy="182.90" r="3.6" fill="#4b8bc7"/>
<path d="M519.70,179.50V182.50M515.40,179.50H524.00M515.40,182.50H524.00" stroke="#4b8bc7" stroke-width="1.8" fill="none"/>
<circle cx="519.70" cy="181.00" r="3.6" fill="#4b8bc7"/>
<path d="M524.80,177.50V180.50M520.50,177.50H529.10M520.50,180.50H529.10" stroke="#4b8bc7" stroke-width="1.8" fill="none"/>
<circle cx="524.80" cy="179.00" r="3.6" fill="#4b8bc7"/>
<path d="M530.70,175.00V178.00M526.40,175.00H535.00M526.40,178.00H535.00" stroke="#4b8bc7" stroke-width="1.8" fill="none"/>
<circle cx="530.70" cy="176.50" r="3.6" fill="#4b8bc7"/>
<path d="M538.00,172.00V175.00M533.70,172.00H542.30M533.70,175.00H542.30" stroke="#4b8bc7" stroke-width="1.8" fill="none"/>
<circle cx="538.00" cy="173.50" r="3.6" fill="#4b8bc7"/>
<path d="M543.10,169.30V172.30M538.80,169.30H547.40M538.80,172.30H547.40" stroke="#4b8bc7" stroke-width="1.8" fill="none"/>
<circle cx="543.10" cy="170.80" r="3.6" fill="#4b8bc7"/>
<path d="M549.60,166.50V169.50M545.30,166.50H553.90M545.30,169.50H553.90" stroke="#4b8bc7" stroke-width="1.8" fill="none"/>
<circle cx="549.60" cy="168.00" r="3.6" fill="#4b8bc7"/>
<path d="M555.50,165.50V168.50M551.20,165.50H559.80M551.20,168.50H559.80" stroke="#4b8bc7" stroke-width="1.8" fill="none"/>
<circle cx="555.50" cy="167.00" r="3.6" fill="#4b8bc7"/>
<path d="M559.90,164.70V167.70M555.60,164.70H564.20M555.60,167.70H564.20" stroke="#4b8bc7" stroke-width="1.8" fill="none"/>
<circle cx="559.90" cy="166.20" r="3.6" fill="#4b8bc7"/>
<path d="M565.00,164.50V167.50M560.70,164.50H569.30M560.70,167.50H569.30" stroke="#4b8bc7" stroke-width="1.8" fill="none"/>
<circle cx="565.00" cy="166.00" r="3.6" fill="#4b8bc7"/>
<path d="M570.10,164.70V167.70M565.80,164.70H574.40M565.80,167.70H574.40" stroke="#4b8bc7" stroke-width="1.8" fill="none"/>
<circle cx="570.10" cy="166.20" r="3.6" fill="#4b8bc7"/>
<path d="M575.90,165.50V168.50M571.60,165.50H580.20M571.60,168.50H580.20" stroke="#4b8bc7" stroke-width="1.8" fill="none"/>
<circle cx="575.90" cy="167.00" r="3.6" fill="#4b8bc7"/>
<path d="M584.20,167.00V170.00M579.90,167.00H588.50M579.90,170.00H588.50" stroke="#4b8bc7" stroke-width="1.8" fill="none"/>
<circle cx="584.20" cy="168.50" r="3.6" fill="#4b8bc7"/>
<path d="M593.60,167.80V170.80M589.30,167.80H597.90M589.30,170.80H597.90" stroke="#4b8bc7" stroke-width="1.8" fill="none"/>
<circle cx="593.60" cy="169.30" r="3.6" fill="#4b8bc7"/>
<path d="M606.50,168.50V171.50M602.20,168.50H610.80M602.20,171.50H610.80" stroke="#4b8bc7" stroke-width="1.8" fill="none"/>
<circle cx="606.50" cy="170.00" r="3.6" fill="#4b8bc7"/>
<path d="M635.70,173.90V176.90M631.40,173.90H640.00M631.40,176.90H640.00" stroke="#4b8bc7" stroke-width="1.8" fill="none"/>
<circle cx="635.70" cy="175.40" r="3.6" fill="#4b8bc7"/><polyline points="481.10,199.20 497.30,197.50 505.50,199.50 513.20,196.30 519.70,195.00 524.80,194.50 530.70,193.00 538.00,192.00 543.10,191.30 549.60,189.30 555.50,188.70 559.90,187.50 565.00,186.90 570.10,186.90 575.90,186.90 584.20,187.70 593.60,188.10 606.50,186.60 635.70,188.40" fill="none" stroke="#9dcfe2" stroke-width="2.3" stroke-linejoin="round"/>
<path d="M481.10,197.70V200.70M476.80,197.70H485.40M476.80,200.70H485.40" stroke="#9dcfe2" stroke-width="1.8" fill="none"/>
<circle cx="481.10" cy="199.20" r="3.6" fill="#9dcfe2"/>
<path d="M497.30,196.00V199.00M493.00,196.00H501.60M493.00,199.00H501.60" stroke="#9dcfe2" stroke-width="1.8" fill="none"/>
<circle cx="497.30" cy="197.50" r="3.6" fill="#9dcfe2"/>
<path d="M505.50,198.00V201.00M501.20,198.00H509.80M501.20,201.00H509.80" stroke="#9dcfe2" stroke-width="1.8" fill="none"/>
<circle cx="505.50" cy="199.50" r="3.6" fill="#9dcfe2"/>
<path d="M513.20,194.80V197.80M508.90,194.80H517.50M508.90,197.80H517.50" stroke="#9dcfe2" stroke-width="1.8" fill="none"/>
<circle cx="513.20" cy="196.30" r="3.6" fill="#9dcfe2"/>
<path d="M519.70,193.50V196.50M515.40,193.50H524.00M515.40,196.50H524.00" stroke="#9dcfe2" stroke-width="1.8" fill="none"/>
<circle cx="519.70" cy="195.00" r="3.6" fill="#9dcfe2"/>
<path d="M524.80,193.00V196.00M520.50,193.00H529.10M520.50,196.00H529.10" stroke="#9dcfe2" stroke-width="1.8" fill="none"/>
<circle cx="524.80" cy="194.50" r="3.6" fill="#9dcfe2"/>
<path d="M530.70,191.50V194.50M526.40,191.50H535.00M526.40,194.50H535.00" stroke="#9dcfe2" stroke-width="1.8" fill="none"/>
<circle cx="530.70" cy="193.00" r="3.6" fill="#9dcfe2"/>
<path d="M538.00,190.50V193.50M533.70,190.50H542.30M533.70,193.50H542.30" stroke="#9dcfe2" stroke-width="1.8" fill="none"/>
<circle cx="538.00" cy="192.00" r="3.6" fill="#9dcfe2"/>
<path d="M543.10,189.80V192.80M538.80,189.80H547.40M538.80,192.80H547.40" stroke="#9dcfe2" stroke-width="1.8" fill="none"/>
<circle cx="543.10" cy="191.30" r="3.6" fill="#9dcfe2"/>
<path d="M549.60,187.80V190.80M545.30,187.80H553.90M545.30,190.80H553.90" stroke="#9dcfe2" stroke-width="1.8" fill="none"/>
<circle cx="549.60" cy="189.30" r="3.6" fill="#9dcfe2"/>
<path d="M555.50,187.20V190.20M551.20,187.20H559.80M551.20,190.20H559.80" stroke="#9dcfe2" stroke-width="1.8" fill="none"/>
<circle cx="555.50" cy="188.70" r="3.6" fill="#9dcfe2"/>
<path d="M559.90,186.00V189.00M555.60,186.00H564.20M555.60,189.00H564.20" stroke="#9dcfe2" stroke-width="1.8" fill="none"/>
<circle cx="559.90" cy="187.50" r="3.6" fill="#9dcfe2"/>
<path d="M565.00,185.40V188.40M560.70,185.40H569.30M560.70,188.40H569.30" stroke="#9dcfe2" stroke-width="1.8" fill="none"/>
<circle cx="565.00" cy="186.90" r="3.6" fill="#9dcfe2"/>
<path d="M570.10,185.40V188.40M565.80,185.40H574.40M565.80,188.40H574.40" stroke="#9dcfe2" stroke-width="1.8" fill="none"/>
<circle cx="570.10" cy="186.90" r="3.6" fill="#9dcfe2"/>
<path d="M575.90,185.40V188.40M571.60,185.40H580.20M571.60,188.40H580.20" stroke="#9dcfe2" stroke-width="1.8" fill="none"/>
<circle cx="575.90" cy="186.90" r="3.6" fill="#9dcfe2"/>
<path d="M584.20,186.20V189.20M579.90,186.20H588.50M579.90,189.20H588.50" stroke="#9dcfe2" stroke-width="1.8" fill="none"/>
<circle cx="584.20" cy="187.70" r="3.6" fill="#9dcfe2"/>
<path d="M593.60,186.60V189.60M589.30,186.60H597.90M589.30,189.60H597.90" stroke="#9dcfe2" stroke-width="1.8" fill="none"/>
<circle cx="593.60" cy="188.10" r="3.6" fill="#9dcfe2"/>
<path d="M606.50,185.10V188.10M602.20,185.10H610.80M602.20,188.10H610.80" stroke="#9dcfe2" stroke-width="1.8" fill="none"/>
<circle cx="606.50" cy="186.60" r="3.6" fill="#9dcfe2"/>
<path d="M635.70,186.90V189.90M631.40,186.90H640.00M631.40,189.90H640.00" stroke="#9dcfe2" stroke-width="1.8" fill="none"/>
<circle cx="635.70" cy="188.40" r="3.6" fill="#9dcfe2"/><polyline points="481.10,125.70 497.30,118.80 505.50,116.90 513.20,108.90 519.70,103.60 524.80,99.00 530.70,92.50 538.00,84.00 543.10,80.50 549.60,74.00 555.50,71.00 559.90,70.00 565.00,69.00 570.10,69.20 575.90,70.50 584.20,74.20 593.60,75.40 606.50,75.90 635.70,87.10" fill="none" stroke="#c9252f" stroke-width="2.3" stroke-linejoin="round"/>
<path d="M481.10,122.70V128.70M476.80,122.70H485.40M476.80,128.70H485.40" stroke="#c9252f" stroke-width="1.8" fill="none"/>
<circle cx="481.10" cy="125.70" r="3.6" fill="#c9252f"/>
<path d="M497.30,115.80V121.80M493.00,115.80H501.60M493.00,121.80H501.60" stroke="#c9252f" stroke-width="1.8" fill="none"/>
<circle cx="497.30" cy="118.80" r="3.6" fill="#c9252f"/>
<path d="M505.50,113.90V119.90M501.20,113.90H509.80M501.20,119.90H509.80" stroke="#c9252f" stroke-width="1.8" fill="none"/>
<circle cx="505.50" cy="116.90" r="3.6" fill="#c9252f"/>
<path d="M513.20,105.90V111.90M508.90,105.90H517.50M508.90,111.90H517.50" stroke="#c9252f" stroke-width="1.8" fill="none"/>
<circle cx="513.20" cy="108.90" r="3.6" fill="#c9252f"/>
<path d="M519.70,100.60V106.60M515.40,100.60H524.00M515.40,106.60H524.00" stroke="#c9252f" stroke-width="1.8" fill="none"/>
<circle cx="519.70" cy="103.60" r="3.6" fill="#c9252f"/>
<path d="M524.80,96.00V102.00M520.50,96.00H529.10M520.50,102.00H529.10" stroke="#c9252f" stroke-width="1.8" fill="none"/>
<circle cx="524.80" cy="99.00" r="3.6" fill="#c9252f"/>
<path d="M530.70,89.50V95.50M526.40,89.50H535.00M526.40,95.50H535.00" stroke="#c9252f" stroke-width="1.8" fill="none"/>
<circle cx="530.70" cy="92.50" r="3.6" fill="#c9252f"/>
<path d="M538.00,81.00V87.00M533.70,81.00H542.30M533.70,87.00H542.30" stroke="#c9252f" stroke-width="1.8" fill="none"/>
<circle cx="538.00" cy="84.00" r="3.6" fill="#c9252f"/>
<path d="M543.10,77.50V83.50M538.80,77.50H547.40M538.80,83.50H547.40" stroke="#c9252f" stroke-width="1.8" fill="none"/>
<circle cx="543.10" cy="80.50" r="3.6" fill="#c9252f"/>
<path d="M549.60,71.00V77.00M545.30,71.00H553.90M545.30,77.00H553.90" stroke="#c9252f" stroke-width="1.8" fill="none"/>
<circle cx="549.60" cy="74.00" r="3.6" fill="#c9252f"/>
<path d="M555.50,68.00V74.00M551.20,68.00H559.80M551.20,74.00H559.80" stroke="#c9252f" stroke-width="1.8" fill="none"/>
<circle cx="555.50" cy="71.00" r="3.6" fill="#c9252f"/>
<path d="M559.90,67.00V73.00M555.60,67.00H564.20M555.60,73.00H564.20" stroke="#c9252f" stroke-width="1.8" fill="none"/>
<circle cx="559.90" cy="70.00" r="3.6" fill="#c9252f"/>
<path d="M565.00,66.00V72.00M560.70,66.00H569.30M560.70,72.00H569.30" stroke="#c9252f" stroke-width="1.8" fill="none"/>
<circle cx="565.00" cy="69.00" r="3.6" fill="#c9252f"/>
<path d="M570.10,66.20V72.20M565.80,66.20H574.40M565.80,72.20H574.40" stroke="#c9252f" stroke-width="1.8" fill="none"/>
<circle cx="570.10" cy="69.20" r="3.6" fill="#c9252f"/>
<path d="M575.90,67.50V73.50M571.60,67.50H580.20M571.60,73.50H580.20" stroke="#c9252f" stroke-width="1.8" fill="none"/>
<circle cx="575.90" cy="70.50" r="3.6" fill="#c9252f"/>
<path d="M584.20,71.20V77.20M579.90,71.20H588.50M579.90,77.20H588.50" stroke="#c9252f" stroke-width="1.8" fill="none"/>
<circle cx="584.20" cy="74.20" r="3.6" fill="#c9252f"/>
<path d="M593.60,72.40V78.40M589.30,72.40H597.90M589.30,78.40H597.90" stroke="#c9252f" stroke-width="1.8" fill="none"/>
<circle cx="593.60" cy="75.40" r="3.6" fill="#c9252f"/>
<path d="M606.50,72.90V78.90M602.20,72.90H610.80M602.20,78.90H610.80" stroke="#c9252f" stroke-width="1.8" fill="none"/>
<circle cx="606.50" cy="75.90" r="3.6" fill="#c9252f"/>
<path d="M635.70,84.10V90.10M631.40,84.10H640.00M631.40,90.10H640.00" stroke="#c9252f" stroke-width="1.8" fill="none"/>
<circle cx="635.70" cy="87.10" r="3.6" fill="#c9252f"/><rect x="412.5" y="6.5" width="271.0" height="216.0" fill="none" stroke="#333333" stroke-width="1.0"/><line x1="97.50" y1="255.5" x2="97.50" y2="472.2" stroke="#d4d4d4" stroke-width="0.7" stroke-dasharray="2.5 1.5"/>
<line x1="97.50" y1="472.2" x2="97.50" y2="470.7" stroke="#333333" stroke-width="0.8"/>
<line x1="97.50" y1="255.5" x2="97.50" y2="257.0" stroke="#333333" stroke-width="0.8"/>
<line x1="108.50" y1="255.5" x2="108.50" y2="472.2" stroke="#d4d4d4" stroke-width="0.7" stroke-dasharray="2.5 1.5"/>
<line x1="108.50" y1="472.2" x2="108.50" y2="470.7" stroke="#333333" stroke-width="0.8"/>
<line x1="108.50" y1="255.5" x2="108.50" y2="257.0" stroke="#333333" stroke-width="0.8"/>
<line x1="116.50" y1="255.5" x2="116.50" y2="472.2" stroke="#d4d4d4" stroke-width="0.7" stroke-dasharray="2.5 1.5"/>
<line x1="116.50" y1="472.2" x2="116.50" y2="470.7" stroke="#333333" stroke-width="0.8"/>
<line x1="116.50" y1="255.5" x2="116.50" y2="257.0" stroke="#333333" stroke-width="0.8"/>
<line x1="123.50" y1="255.5" x2="123.50" y2="472.2" stroke="#d4d4d4" stroke-width="0.7" stroke-dasharray="2.5 1.5"/>
<line x1="123.50" y1="472.2" x2="123.50" y2="470.7" stroke="#333333" stroke-width="0.8"/>
<line x1="123.50" y1="255.5" x2="123.50" y2="257.0" stroke="#333333" stroke-width="0.8"/>
<line x1="129.50" y1="255.5" x2="129.50" y2="472.2" stroke="#d4d4d4" stroke-width="0.7" stroke-dasharray="2.5 1.5"/>
<line x1="129.50" y1="472.2" x2="129.50" y2="470.7" stroke="#333333" stroke-width="0.8"/>
<line x1="129.50" y1="255.5" x2="129.50" y2="257.0" stroke="#333333" stroke-width="0.8"/>
<line x1="135.50" y1="255.5" x2="135.50" y2="472.2" stroke="#d4d4d4" stroke-width="0.7" stroke-dasharray="2.5 1.5"/>
<line x1="135.50" y1="472.2" x2="135.50" y2="470.7" stroke="#333333" stroke-width="0.8"/>
<line x1="135.50" y1="255.5" x2="135.50" y2="257.0" stroke="#333333" stroke-width="0.8"/>
<line x1="172.50" y1="255.5" x2="172.50" y2="472.2" stroke="#d4d4d4" stroke-width="0.7" stroke-dasharray="2.5 1.5"/>
<line x1="172.50" y1="472.2" x2="172.50" y2="470.7" stroke="#333333" stroke-width="0.8"/>
<line x1="172.50" y1="255.5" x2="172.50" y2="257.0" stroke="#333333" stroke-width="0.8"/>
<line x1="204.50" y1="255.5" x2="204.50" y2="472.2" stroke="#d4d4d4" stroke-width="0.7" stroke-dasharray="2.5 1.5"/>
<line x1="204.50" y1="472.2" x2="204.50" y2="470.7" stroke="#333333" stroke-width="0.8"/>
<line x1="204.50" y1="255.5" x2="204.50" y2="257.0" stroke="#333333" stroke-width="0.8"/>
<line x1="214.50" y1="255.5" x2="214.50" y2="472.2" stroke="#d4d4d4" stroke-width="0.7" stroke-dasharray="2.5 1.5"/>
<line x1="214.50" y1="472.2" x2="214.50" y2="470.7" stroke="#333333" stroke-width="0.8"/>
<line x1="214.50" y1="255.5" x2="214.50" y2="257.0" stroke="#333333" stroke-width="0.8"/>
<line x1="222.50" y1="255.5" x2="222.50" y2="472.2" stroke="#d4d4d4" stroke-width="0.7" stroke-dasharray="2.5 1.5"/>
<line x1="222.50" y1="472.2" x2="222.50" y2="470.7" stroke="#333333" stroke-width="0.8"/>
<line x1="222.50" y1="255.5" x2="222.50" y2="257.0" stroke="#333333" stroke-width="0.8"/>
<line x1="230.50" y1="255.5" x2="230.50" y2="472.2" stroke="#d4d4d4" stroke-width="0.7" stroke-dasharray="2.5 1.5"/>
<line x1="230.50" y1="472.2" x2="230.50" y2="470.7" stroke="#333333" stroke-width="0.8"/>
<line x1="230.50" y1="255.5" x2="230.50" y2="257.0" stroke="#333333" stroke-width="0.8"/>
<line x1="236.50" y1="255.5" x2="236.50" y2="472.2" stroke="#d4d4d4" stroke-width="0.7" stroke-dasharray="2.5 1.5"/>
<line x1="236.50" y1="472.2" x2="236.50" y2="470.7" stroke="#333333" stroke-width="0.8"/>
<line x1="236.50" y1="255.5" x2="236.50" y2="257.0" stroke="#333333" stroke-width="0.8"/>
<line x1="241.50" y1="255.5" x2="241.50" y2="472.2" stroke="#d4d4d4" stroke-width="0.7" stroke-dasharray="2.5 1.5"/>
<line x1="241.50" y1="472.2" x2="241.50" y2="470.7" stroke="#333333" stroke-width="0.8"/>
<line x1="241.50" y1="255.5" x2="241.50" y2="257.0" stroke="#333333" stroke-width="0.8"/>
<line x1="278.50" y1="255.5" x2="278.50" y2="472.2" stroke="#d4d4d4" stroke-width="0.7" stroke-dasharray="2.5 1.5"/>
<line x1="278.50" y1="472.2" x2="278.50" y2="470.7" stroke="#333333" stroke-width="0.8"/>
<line x1="278.50" y1="255.5" x2="278.50" y2="257.0" stroke="#333333" stroke-width="0.8"/>
<line x1="310.50" y1="255.5" x2="310.50" y2="472.2" stroke="#d4d4d4" stroke-width="0.7" stroke-dasharray="2.5 1.5"/>
<line x1="310.50" y1="472.2" x2="310.50" y2="470.7" stroke="#333333" stroke-width="0.8"/>
<line x1="310.50" y1="255.5" x2="310.50" y2="257.0" stroke="#333333" stroke-width="0.8"/>
<line x1="320.50" y1="255.5" x2="320.50" y2="472.2" stroke="#d4d4d4" stroke-width="0.7" stroke-dasharray="2.5 1.5"/>
<line x1="320.50" y1="472.2" x2="320.50" y2="470.7" stroke="#333333" stroke-width="0.8"/>
<line x1="320.50" y1="255.5" x2="320.50" y2="257.0" stroke="#333333" stroke-width="0.8"/>
<line x1="329.50" y1="255.5" x2="329.50" y2="472.2" stroke="#d4d4d4" stroke-width="0.7" stroke-dasharray="2.5 1.5"/>
<line x1="329.50" y1="472.2" x2="329.50" y2="470.7" stroke="#333333" stroke-width="0.8"/>
<line x1="329.50" y1="255.5" x2="329.50" y2="257.0" stroke="#333333" stroke-width="0.8"/>
<line x1="65.8" y1="445.50" x2="336.4" y2="445.50" stroke="#d4d4d4" stroke-width="0.7" stroke-dasharray="2.5 1.5"/>
<line x1="65.8" y1="445.50" x2="67.3" y2="445.50" stroke="#333333" stroke-width="0.8"/>
<line x1="336.4" y1="445.50" x2="334.9" y2="445.50" stroke="#333333" stroke-width="0.8"/>
<line x1="65.8" y1="430.50" x2="336.4" y2="430.50" stroke="#d4d4d4" stroke-width="0.7" stroke-dasharray="2.5 1.5"/>
<line x1="65.8" y1="430.50" x2="67.3" y2="430.50" stroke="#333333" stroke-width="0.8"/>
<line x1="336.4" y1="430.50" x2="334.9" y2="430.50" stroke="#333333" stroke-width="0.8"/>
<line x1="65.8" y1="419.50" x2="336.4" y2="419.50" stroke="#d4d4d4" stroke-width="0.7" stroke-dasharray="2.5 1.5"/>
<line x1="65.8" y1="419.50" x2="67.3" y2="419.50" stroke="#333333" stroke-width="0.8"/>
<line x1="336.4" y1="419.50" x2="334.9" y2="419.50" stroke="#333333" stroke-width="0.8"/>
<line x1="65.8" y1="411.50" x2="336.4" y2="411.50" stroke="#d4d4d4" stroke-width="0.7" stroke-dasharray="2.5 1.5"/>
<line x1="65.8" y1="411.50" x2="67.3" y2="411.50" stroke="#333333" stroke-width="0.8"/>
<line x1="336.4" y1="411.50" x2="334.9" y2="411.50" stroke="#333333" stroke-width="0.8"/>
<line x1="65.8" y1="404.50" x2="336.4" y2="404.50" stroke="#d4d4d4" stroke-width="0.7" stroke-dasharray="2.5 1.5"/>
<line x1="65.8" y1="404.50" x2="67.3" y2="404.50" stroke="#333333" stroke-width="0.8"/>
<line x1="336.4" y1="404.50" x2="334.9" y2="404.50" stroke="#333333" stroke-width="0.8"/>
<line x1="65.8" y1="398.50" x2="336.4" y2="398.50" stroke="#d4d4d4" stroke-width="0.7" stroke-dasharray="2.5 1.5"/>
<line x1="65.8" y1="398.50" x2="67.3" y2="398.50" stroke="#333333" stroke-width="0.8"/>
<line x1="336.4" y1="398.50" x2="334.9" y2="398.50" stroke="#333333" stroke-width="0.8"/>
<line x1="65.8" y1="393.50" x2="336.4" y2="393.50" stroke="#d4d4d4" stroke-width="0.7" stroke-dasharray="2.5 1.5"/>
<line x1="65.8" y1="393.50" x2="67.3" y2="393.50" stroke="#333333" stroke-width="0.8"/>
<line x1="336.4" y1="393.50" x2="334.9" y2="393.50" stroke="#333333" stroke-width="0.8"/>
<line x1="65.8" y1="388.50" x2="336.4" y2="388.50" stroke="#d4d4d4" stroke-width="0.7" stroke-dasharray="2.5 1.5"/>
<line x1="65.8" y1="388.50" x2="67.3" y2="388.50" stroke="#333333" stroke-width="0.8"/>
<line x1="336.4" y1="388.50" x2="334.9" y2="388.50" stroke="#333333" stroke-width="0.8"/>
<line x1="65.8" y1="358.50" x2="336.4" y2="358.50" stroke="#d4d4d4" stroke-width="0.7" stroke-dasharray="2.5 1.5"/>
<line x1="65.8" y1="358.50" x2="67.3" y2="358.50" stroke="#333333" stroke-width="0.8"/>
<line x1="336.4" y1="358.50" x2="334.9" y2="358.50" stroke="#333333" stroke-width="0.8"/>
<line x1="65.8" y1="332.50" x2="336.4" y2="332.50" stroke="#d4d4d4" stroke-width="0.7" stroke-dasharray="2.5 1.5"/>
<line x1="65.8" y1="332.50" x2="67.3" y2="332.50" stroke="#333333" stroke-width="0.8"/>
<line x1="336.4" y1="332.50" x2="334.9" y2="332.50" stroke="#333333" stroke-width="0.8"/>
<line x1="65.8" y1="323.50" x2="336.4" y2="323.50" stroke="#d4d4d4" stroke-width="0.7" stroke-dasharray="2.5 1.5"/>
<line x1="65.8" y1="323.50" x2="67.3" y2="323.50" stroke="#333333" stroke-width="0.8"/>
<line x1="336.4" y1="323.50" x2="334.9" y2="323.50" stroke="#333333" stroke-width="0.8"/>
<line x1="65.8" y1="316.50" x2="336.4" y2="316.50" stroke="#d4d4d4" stroke-width="0.7" stroke-dasharray="2.5 1.5"/>
<line x1="65.8" y1="316.50" x2="67.3" y2="316.50" stroke="#333333" stroke-width="0.8"/>
<line x1="336.4" y1="316.50" x2="334.9" y2="316.50" stroke="#333333" stroke-width="0.8"/>
<line x1="65.8" y1="310.50" x2="336.4" y2="310.50" stroke="#d4d4d4" stroke-width="0.7" stroke-dasharray="2.5 1.5"/>
<line x1="65.8" y1="310.50" x2="67.3" y2="310.50" stroke="#333333" stroke-width="0.8"/>
<line x1="336.4" y1="310.50" x2="334.9" y2="310.50" stroke="#333333" stroke-width="0.8"/>
<line x1="65.8" y1="305.50" x2="336.4" y2="305.50" stroke="#d4d4d4" stroke-width="0.7" stroke-dasharray="2.5 1.5"/>
<line x1="65.8" y1="305.50" x2="67.3" y2="305.50" stroke="#333333" stroke-width="0.8"/>
<line x1="336.4" y1="305.50" x2="334.9" y2="305.50" stroke="#333333" stroke-width="0.8"/>
<line x1="65.8" y1="301.50" x2="336.4" y2="301.50" stroke="#d4d4d4" stroke-width="0.7" stroke-dasharray="2.5 1.5"/>
<line x1="65.8" y1="301.50" x2="67.3" y2="301.50" stroke="#333333" stroke-width="0.8"/>
<line x1="336.4" y1="301.50" x2="334.9" y2="301.50" stroke="#333333" stroke-width="0.8"/>
<line x1="84.50" y1="255.5" x2="84.50" y2="472.2" stroke="#d8d8d8" stroke-width="0.8"/>
<line x1="84.50" y1="472.2" x2="84.50" y2="469.2" stroke="#333333" stroke-width="1"/>
<line x1="84.50" y1="255.5" x2="84.50" y2="258.5" stroke="#333333" stroke-width="1"/>
<line x1="140.50" y1="255.5" x2="140.50" y2="472.2" stroke="#d8d8d8" stroke-width="0.8"/>
<line x1="140.50" y1="472.2" x2="140.50" y2="469.2" stroke="#333333" stroke-width="1"/>
<line x1="140.50" y1="255.5" x2="140.50" y2="258.5" stroke="#333333" stroke-width="1"/>
<line x1="190.50" y1="255.5" x2="190.50" y2="472.2" stroke="#d8d8d8" stroke-width="0.8"/>
<line x1="190.50" y1="472.2" x2="190.50" y2="469.2" stroke="#333333" stroke-width="1"/>
<line x1="190.50" y1="255.5" x2="190.50" y2="258.5" stroke="#333333" stroke-width="1"/>
<line x1="246.50" y1="255.5" x2="246.50" y2="472.2" stroke="#d8d8d8" stroke-width="0.8"/>
<line x1="246.50" y1="472.2" x2="246.50" y2="469.2" stroke="#333333" stroke-width="1"/>
<line x1="246.50" y1="255.5" x2="246.50" y2="258.5" stroke="#333333" stroke-width="1"/>
<line x1="297.50" y1="255.5" x2="297.50" y2="472.2" stroke="#d8d8d8" stroke-width="0.8"/>
<line x1="297.50" y1="472.2" x2="297.50" y2="469.2" stroke="#333333" stroke-width="1"/>
<line x1="297.50" y1="255.5" x2="297.50" y2="258.5" stroke="#333333" stroke-width="1"/>
<line x1="65.8" y1="384.50" x2="336.4" y2="384.50" stroke="#d8d8d8" stroke-width="0.8"/>
<line x1="65.8" y1="384.50" x2="68.8" y2="384.50" stroke="#333333" stroke-width="1"/>
<line x1="336.4" y1="384.50" x2="333.4" y2="384.50" stroke="#333333" stroke-width="1"/>
<line x1="65.8" y1="342.50" x2="336.4" y2="342.50" stroke="#d8d8d8" stroke-width="0.8"/>
<line x1="65.8" y1="342.50" x2="68.8" y2="342.50" stroke="#333333" stroke-width="1"/>
<line x1="336.4" y1="342.50" x2="333.4" y2="342.50" stroke="#333333" stroke-width="1"/>
<line x1="65.8" y1="297.50" x2="336.4" y2="297.50" stroke="#d8d8d8" stroke-width="0.8"/>
<line x1="65.8" y1="297.50" x2="68.8" y2="297.50" stroke="#333333" stroke-width="1"/>
<line x1="336.4" y1="297.50" x2="333.4" y2="297.50" stroke="#333333" stroke-width="1"/>
<line x1="65.8" y1="270.50" x2="336.4" y2="270.50" stroke="#d8d8d8" stroke-width="0.8"/>
<line x1="65.8" y1="270.50" x2="68.8" y2="270.50" stroke="#333333" stroke-width="1"/>
<line x1="336.4" y1="270.50" x2="333.4" y2="270.50" stroke="#333333" stroke-width="1"/><text x="84.53" y="494.7" text-anchor="middle" class="tk">0.3</text><text x="140.15" y="494.7" text-anchor="middle" class="tk">1</text><text x="190.90" y="494.7" text-anchor="middle" class="tk">3</text><text x="246.51" y="494.7" text-anchor="middle" class="tk">10</text><text x="297.26" y="494.7" text-anchor="middle" class="tk">30</text><text x="58.8" y="478.40" text-anchor="end" class="tk">0.01</text><text x="58.8" y="390.92" text-anchor="end" class="tk">0.1</text><text x="58.8" y="349.18" text-anchor="end" class="tk">0.3</text><text x="58.8" y="303.44" text-anchor="end" class="tk">1</text><text x="58.8" y="277.10" text-anchor="end" class="tk">2</text><text x="58.8" y="261.70" text-anchor="end" class="tk">3</text><polyline points="134.10,370.30 150.30,366.00 158.50,360.20 166.20,354.10 172.70,348.00 177.80,342.70 183.70,336.50 191.00,330.50 196.10,326.40 202.60,319.50 208.50,317.30 212.90,318.00 218.00,319.50 223.10,316.00 228.90,319.50 237.20,319.50 246.60,320.30 259.50,324.10 288.70,333.00" fill="none" stroke="#1c3a80" stroke-width="2.3" stroke-linejoin="round"/>
<path d="M134.10,365.80V374.80M129.80,365.80H138.40M129.80,374.80H138.40" stroke="#1c3a80" stroke-width="1.8" fill="none"/>
<circle cx="134.10" cy="370.30" r="3.6" fill="#1c3a80"/>
<path d="M150.30,362.00V370.00M146.00,362.00H154.60M146.00,370.00H154.60" stroke="#1c3a80" stroke-width="1.8" fill="none"/>
<circle cx="150.30" cy="366.00" r="3.6" fill="#1c3a80"/>
<path d="M158.50,356.20V364.20M154.20,356.20H162.80M154.20,364.20H162.80" stroke="#1c3a80" stroke-width="1.8" fill="none"/>
<circle cx="158.50" cy="360.20" r="3.6" fill="#1c3a80"/>
<path d="M166.20,350.10V358.10M161.90,350.10H170.50M161.90,358.10H170.50" stroke="#1c3a80" stroke-width="1.8" fill="none"/>
<circle cx="166.20" cy="354.10" r="3.6" fill="#1c3a80"/>
<path d="M172.70,344.00V352.00M168.40,344.00H177.00M168.40,352.00H177.00" stroke="#1c3a80" stroke-width="1.8" fill="none"/>
<circle cx="172.70" cy="348.00" r="3.6" fill="#1c3a80"/>
<path d="M177.80,338.70V346.70M173.50,338.70H182.10M173.50,346.70H182.10" stroke="#1c3a80" stroke-width="1.8" fill="none"/>
<circle cx="177.80" cy="342.70" r="3.6" fill="#1c3a80"/>
<path d="M183.70,332.50V340.50M179.40,332.50H188.00M179.40,340.50H188.00" stroke="#1c3a80" stroke-width="1.8" fill="none"/>
<circle cx="183.70" cy="336.50" r="3.6" fill="#1c3a80"/>
<path d="M191.00,326.50V334.50M186.70,326.50H195.30M186.70,334.50H195.30" stroke="#1c3a80" stroke-width="1.8" fill="none"/>
<circle cx="191.00" cy="330.50" r="3.6" fill="#1c3a80"/>
<path d="M196.10,322.40V330.40M191.80,322.40H200.40M191.80,330.40H200.40" stroke="#1c3a80" stroke-width="1.8" fill="none"/>
<circle cx="196.10" cy="326.40" r="3.6" fill="#1c3a80"/>
<path d="M202.60,315.50V323.50M198.30,315.50H206.90M198.30,323.50H206.90" stroke="#1c3a80" stroke-width="1.8" fill="none"/>
<circle cx="202.60" cy="319.50" r="3.6" fill="#1c3a80"/>
<path d="M208.50,313.30V321.30M204.20,313.30H212.80M204.20,321.30H212.80" stroke="#1c3a80" stroke-width="1.8" fill="none"/>
<circle cx="208.50" cy="317.30" r="3.6" fill="#1c3a80"/>
<path d="M212.90,314.00V322.00M208.60,314.00H217.20M208.60,322.00H217.20" stroke="#1c3a80" stroke-width="1.8" fill="none"/>
<circle cx="212.90" cy="318.00" r="3.6" fill="#1c3a80"/>
<path d="M218.00,315.50V323.50M213.70,315.50H222.30M213.70,323.50H222.30" stroke="#1c3a80" stroke-width="1.8" fill="none"/>
<circle cx="218.00" cy="319.50" r="3.6" fill="#1c3a80"/>
<path d="M223.10,312.00V320.00M218.80,312.00H227.40M218.80,320.00H227.40" stroke="#1c3a80" stroke-width="1.8" fill="none"/>
<circle cx="223.10" cy="316.00" r="3.6" fill="#1c3a80"/>
<path d="M228.90,315.50V323.50M224.60,315.50H233.20M224.60,323.50H233.20" stroke="#1c3a80" stroke-width="1.8" fill="none"/>
<circle cx="228.90" cy="319.50" r="3.6" fill="#1c3a80"/>
<path d="M237.20,315.50V323.50M232.90,315.50H241.50M232.90,323.50H241.50" stroke="#1c3a80" stroke-width="1.8" fill="none"/>
<circle cx="237.20" cy="319.50" r="3.6" fill="#1c3a80"/>
<path d="M246.60,316.30V324.30M242.30,316.30H250.90M242.30,324.30H250.90" stroke="#1c3a80" stroke-width="1.8" fill="none"/>
<circle cx="246.60" cy="320.30" r="3.6" fill="#1c3a80"/>
<path d="M259.50,320.10V328.10M255.20,320.10H263.80M255.20,328.10H263.80" stroke="#1c3a80" stroke-width="1.8" fill="none"/>
<circle cx="259.50" cy="324.10" r="3.6" fill="#1c3a80"/>
<path d="M288.70,329.00V337.00M284.40,329.00H293.00M284.40,337.00H293.00" stroke="#1c3a80" stroke-width="1.8" fill="none"/>
<circle cx="288.70" cy="333.00" r="3.6" fill="#1c3a80"/><polyline points="134.10,362.70 150.30,353.50 158.50,348.80 166.20,339.60 172.70,331.20 177.80,326.60 183.70,317.50 191.00,311.40 196.10,306.80 202.60,300.50 208.50,299.00 212.90,300.00 218.00,301.20 223.10,297.00 228.90,298.90 237.20,296.60 246.60,301.20 259.50,304.30 288.70,312.70" fill="none" stroke="#4b8bc7" stroke-width="2.3" stroke-linejoin="round"/>
<path d="M134.10,358.70V366.70M129.80,358.70H138.40M129.80,366.70H138.40" stroke="#4b8bc7" stroke-width="1.8" fill="none"/>
<circle cx="134.10" cy="362.70" r="3.6" fill="#4b8bc7"/>
<path d="M150.30,349.50V357.50M146.00,349.50H154.60M146.00,357.50H154.60" stroke="#4b8bc7" stroke-width="1.8" fill="none"/>
<circle cx="150.30" cy="353.50" r="3.6" fill="#4b8bc7"/>
<path d="M158.50,344.80V352.80M154.20,344.80H162.80M154.20,352.80H162.80" stroke="#4b8bc7" stroke-width="1.8" fill="none"/>
<circle cx="158.50" cy="348.80" r="3.6" fill="#4b8bc7"/>
<path d="M166.20,335.60V343.60M161.90,335.60H170.50M161.90,343.60H170.50" stroke="#4b8bc7" stroke-width="1.8" fill="none"/>
<circle cx="166.20" cy="339.60" r="3.6" fill="#4b8bc7"/>
<path d="M172.70,327.20V335.20M168.40,327.20H177.00M168.40,335.20H177.00" stroke="#4b8bc7" stroke-width="1.8" fill="none"/>
<circle cx="172.70" cy="331.20" r="3.6" fill="#4b8bc7"/>
<path d="M177.80,322.60V330.60M173.50,322.60H182.10M173.50,330.60H182.10" stroke="#4b8bc7" stroke-width="1.8" fill="none"/>
<circle cx="177.80" cy="326.60" r="3.6" fill="#4b8bc7"/>
<path d="M183.70,313.50V321.50M179.40,313.50H188.00M179.40,321.50H188.00" stroke="#4b8bc7" stroke-width="1.8" fill="none"/>
<circle cx="183.70" cy="317.50" r="3.6" fill="#4b8bc7"/>
<path d="M191.00,307.40V315.40M186.70,307.40H195.30M186.70,315.40H195.30" stroke="#4b8bc7" stroke-width="1.8" fill="none"/>
<circle cx="191.00" cy="311.40" r="3.6" fill="#4b8bc7"/>
<path d="M196.10,302.80V310.80M191.80,302.80H200.40M191.80,310.80H200.40" stroke="#4b8bc7" stroke-width="1.8" fill="none"/>
<circle cx="196.10" cy="306.80" r="3.6" fill="#4b8bc7"/>
<path d="M202.60,296.50V304.50M198.30,296.50H206.90M198.30,304.50H206.90" stroke="#4b8bc7" stroke-width="1.8" fill="none"/>
<circle cx="202.60" cy="300.50" r="3.6" fill="#4b8bc7"/>
<path d="M208.50,295.00V303.00M204.20,295.00H212.80M204.20,303.00H212.80" stroke="#4b8bc7" stroke-width="1.8" fill="none"/>
<circle cx="208.50" cy="299.00" r="3.6" fill="#4b8bc7"/>
<path d="M212.90,296.00V304.00M208.60,296.00H217.20M208.60,304.00H217.20" stroke="#4b8bc7" stroke-width="1.8" fill="none"/>
<circle cx="212.90" cy="300.00" r="3.6" fill="#4b8bc7"/>
<path d="M218.00,297.20V305.20M213.70,297.20H222.30M213.70,305.20H222.30" stroke="#4b8bc7" stroke-width="1.8" fill="none"/>
<circle cx="218.00" cy="301.20" r="3.6" fill="#4b8bc7"/>
<path d="M223.10,293.00V301.00M218.80,293.00H227.40M218.80,301.00H227.40" stroke="#4b8bc7" stroke-width="1.8" fill="none"/>
<circle cx="223.10" cy="297.00" r="3.6" fill="#4b8bc7"/>
<path d="M228.90,294.90V302.90M224.60,294.90H233.20M224.60,302.90H233.20" stroke="#4b8bc7" stroke-width="1.8" fill="none"/>
<circle cx="228.90" cy="298.90" r="3.6" fill="#4b8bc7"/>
<path d="M237.20,292.60V300.60M232.90,292.60H241.50M232.90,300.60H241.50" stroke="#4b8bc7" stroke-width="1.8" fill="none"/>
<circle cx="237.20" cy="296.60" r="3.6" fill="#4b8bc7"/>
<path d="M246.60,297.20V305.20M242.30,297.20H250.90M242.30,305.20H250.90" stroke="#4b8bc7" stroke-width="1.8" fill="none"/>
<circle cx="246.60" cy="301.20" r="3.6" fill="#4b8bc7"/>
<path d="M259.50,300.30V308.30M255.20,300.30H263.80M255.20,308.30H263.80" stroke="#4b8bc7" stroke-width="1.8" fill="none"/>
<circle cx="259.50" cy="304.30" r="3.6" fill="#4b8bc7"/>
<path d="M288.70,308.70V316.70M284.40,308.70H293.00M284.40,316.70H293.00" stroke="#4b8bc7" stroke-width="1.8" fill="none"/>
<circle cx="288.70" cy="312.70" r="3.6" fill="#4b8bc7"/><polyline points="134.10,416.00 150.30,411.40 158.50,409.40 166.20,405.50 172.70,402.50 177.80,400.20 183.70,396.00 191.00,393.00 196.10,392.30 202.60,390.00 208.50,387.50 212.90,386.50 218.00,387.00 223.10,388.90 228.90,388.00 237.20,387.90 246.60,385.20 259.50,384.70 288.70,384.70" fill="none" stroke="#9dcfe2" stroke-width="2.3" stroke-linejoin="round"/>
<path d="M134.10,408.20V423.80M129.80,408.20H138.40M129.80,423.80H138.40" stroke="#9dcfe2" stroke-width="1.8" fill="none"/>
<circle cx="134.10" cy="416.00" r="3.6" fill="#9dcfe2"/>
<path d="M150.30,406.90V415.90M146.00,406.90H154.60M146.00,415.90H154.60" stroke="#9dcfe2" stroke-width="1.8" fill="none"/>
<circle cx="150.30" cy="411.40" r="3.6" fill="#9dcfe2"/>
<path d="M158.50,405.40V413.40M154.20,405.40H162.80M154.20,413.40H162.80" stroke="#9dcfe2" stroke-width="1.8" fill="none"/>
<circle cx="158.50" cy="409.40" r="3.6" fill="#9dcfe2"/>
<path d="M166.20,401.50V409.50M161.90,401.50H170.50M161.90,409.50H170.50" stroke="#9dcfe2" stroke-width="1.8" fill="none"/>
<circle cx="166.20" cy="405.50" r="3.6" fill="#9dcfe2"/>
<path d="M172.70,398.50V406.50M168.40,398.50H177.00M168.40,406.50H177.00" stroke="#9dcfe2" stroke-width="1.8" fill="none"/>
<circle cx="172.70" cy="402.50" r="3.6" fill="#9dcfe2"/>
<path d="M177.80,396.20V404.20M173.50,396.20H182.10M173.50,404.20H182.10" stroke="#9dcfe2" stroke-width="1.8" fill="none"/>
<circle cx="177.80" cy="400.20" r="3.6" fill="#9dcfe2"/>
<path d="M183.70,392.00V400.00M179.40,392.00H188.00M179.40,400.00H188.00" stroke="#9dcfe2" stroke-width="1.8" fill="none"/>
<circle cx="183.70" cy="396.00" r="3.6" fill="#9dcfe2"/>
<path d="M191.00,389.00V397.00M186.70,389.00H195.30M186.70,397.00H195.30" stroke="#9dcfe2" stroke-width="1.8" fill="none"/>
<circle cx="191.00" cy="393.00" r="3.6" fill="#9dcfe2"/>
<path d="M196.10,388.30V396.30M191.80,388.30H200.40M191.80,396.30H200.40" stroke="#9dcfe2" stroke-width="1.8" fill="none"/>
<circle cx="196.10" cy="392.30" r="3.6" fill="#9dcfe2"/>
<path d="M202.60,386.00V394.00M198.30,386.00H206.90M198.30,394.00H206.90" stroke="#9dcfe2" stroke-width="1.8" fill="none"/>
<circle cx="202.60" cy="390.00" r="3.6" fill="#9dcfe2"/>
<path d="M208.50,383.50V391.50M204.20,383.50H212.80M204.20,391.50H212.80" stroke="#9dcfe2" stroke-width="1.8" fill="none"/>
<circle cx="208.50" cy="387.50" r="3.6" fill="#9dcfe2"/>
<path d="M212.90,382.50V390.50M208.60,382.50H217.20M208.60,390.50H217.20" stroke="#9dcfe2" stroke-width="1.8" fill="none"/>
<circle cx="212.90" cy="386.50" r="3.6" fill="#9dcfe2"/>
<path d="M218.00,383.00V391.00M213.70,383.00H222.30M213.70,391.00H222.30" stroke="#9dcfe2" stroke-width="1.8" fill="none"/>
<circle cx="218.00" cy="387.00" r="3.6" fill="#9dcfe2"/>
<path d="M223.10,384.90V392.90M218.80,384.90H227.40M218.80,392.90H227.40" stroke="#9dcfe2" stroke-width="1.8" fill="none"/>
<circle cx="223.10" cy="388.90" r="3.6" fill="#9dcfe2"/>
<path d="M228.90,384.00V392.00M224.60,384.00H233.20M224.60,392.00H233.20" stroke="#9dcfe2" stroke-width="1.8" fill="none"/>
<circle cx="228.90" cy="388.00" r="3.6" fill="#9dcfe2"/>
<path d="M237.20,383.90V391.90M232.90,383.90H241.50M232.90,391.90H241.50" stroke="#9dcfe2" stroke-width="1.8" fill="none"/>
<circle cx="237.20" cy="387.90" r="3.6" fill="#9dcfe2"/>
<path d="M246.60,381.20V389.20M242.30,381.20H250.90M242.30,389.20H250.90" stroke="#9dcfe2" stroke-width="1.8" fill="none"/>
<circle cx="246.60" cy="385.20" r="3.6" fill="#9dcfe2"/>
<path d="M259.50,380.70V388.70M255.20,380.70H263.80M255.20,388.70H263.80" stroke="#9dcfe2" stroke-width="1.8" fill="none"/>
<circle cx="259.50" cy="384.70" r="3.6" fill="#9dcfe2"/>
<path d="M288.70,380.70V388.70M284.40,380.70H293.00M284.40,388.70H293.00" stroke="#9dcfe2" stroke-width="1.8" fill="none"/>
<circle cx="288.70" cy="384.70" r="3.6" fill="#9dcfe2"/><polyline points="134.10,334.90 150.30,328.00 158.50,323.40 166.20,315.80 172.70,309.70 177.80,304.40 183.70,297.50 191.00,290.60 196.10,287.00 202.60,280.30 208.50,278.30 212.90,278.50 218.00,279.80 223.10,276.00 228.90,278.30 237.20,276.80 246.60,280.60 259.50,283.70 288.70,291.30" fill="none" stroke="#c9252f" stroke-width="2.3" stroke-linejoin="round"/>
<path d="M134.10,330.90V338.90M129.80,330.90H138.40M129.80,338.90H138.40" stroke="#c9252f" stroke-width="1.8" fill="none"/>
<circle cx="134.10" cy="334.90" r="3.6" fill="#c9252f"/>
<path d="M150.30,324.00V332.00M146.00,324.00H154.60M146.00,332.00H154.60" stroke="#c9252f" stroke-width="1.8" fill="none"/>
<circle cx="150.30" cy="328.00" r="3.6" fill="#c9252f"/>
<path d="M158.50,319.40V327.40M154.20,319.40H162.80M154.20,327.40H162.80" stroke="#c9252f" stroke-width="1.8" fill="none"/>
<circle cx="158.50" cy="323.40" r="3.6" fill="#c9252f"/>
<path d="M166.20,311.80V319.80M161.90,311.80H170.50M161.90,319.80H170.50" stroke="#c9252f" stroke-width="1.8" fill="none"/>
<circle cx="166.20" cy="315.80" r="3.6" fill="#c9252f"/>
<path d="M172.70,305.70V313.70M168.40,305.70H177.00M168.40,313.70H177.00" stroke="#c9252f" stroke-width="1.8" fill="none"/>
<circle cx="172.70" cy="309.70" r="3.6" fill="#c9252f"/>
<path d="M177.80,300.40V308.40M173.50,300.40H182.10M173.50,308.40H182.10" stroke="#c9252f" stroke-width="1.8" fill="none"/>
<circle cx="177.80" cy="304.40" r="3.6" fill="#c9252f"/>
<path d="M183.70,293.50V301.50M179.40,293.50H188.00M179.40,301.50H188.00" stroke="#c9252f" stroke-width="1.8" fill="none"/>
<circle cx="183.70" cy="297.50" r="3.6" fill="#c9252f"/>
<path d="M191.00,286.60V294.60M186.70,286.60H195.30M186.70,294.60H195.30" stroke="#c9252f" stroke-width="1.8" fill="none"/>
<circle cx="191.00" cy="290.60" r="3.6" fill="#c9252f"/>
<path d="M196.10,283.00V291.00M191.80,283.00H200.40M191.80,291.00H200.40" stroke="#c9252f" stroke-width="1.8" fill="none"/>
<circle cx="196.10" cy="287.00" r="3.6" fill="#c9252f"/>
<path d="M202.60,276.30V284.30M198.30,276.30H206.90M198.30,284.30H206.90" stroke="#c9252f" stroke-width="1.8" fill="none"/>
<circle cx="202.60" cy="280.30" r="3.6" fill="#c9252f"/>
<path d="M208.50,274.30V282.30M204.20,274.30H212.80M204.20,282.30H212.80" stroke="#c9252f" stroke-width="1.8" fill="none"/>
<circle cx="208.50" cy="278.30" r="3.6" fill="#c9252f"/>
<path d="M212.90,274.50V282.50M208.60,274.50H217.20M208.60,282.50H217.20" stroke="#c9252f" stroke-width="1.8" fill="none"/>
<circle cx="212.90" cy="278.50" r="3.6" fill="#c9252f"/>
<path d="M218.00,275.80V283.80M213.70,275.80H222.30M213.70,283.80H222.30" stroke="#c9252f" stroke-width="1.8" fill="none"/>
<circle cx="218.00" cy="279.80" r="3.6" fill="#c9252f"/>
<path d="M223.10,272.00V280.00M218.80,272.00H227.40M218.80,280.00H227.40" stroke="#c9252f" stroke-width="1.8" fill="none"/>
<circle cx="223.10" cy="276.00" r="3.6" fill="#c9252f"/>
<path d="M228.90,274.30V282.30M224.60,274.30H233.20M224.60,282.30H233.20" stroke="#c9252f" stroke-width="1.8" fill="none"/>
<circle cx="228.90" cy="278.30" r="3.6" fill="#c9252f"/>
<path d="M237.20,272.80V280.80M232.90,272.80H241.50M232.90,280.80H241.50" stroke="#c9252f" stroke-width="1.8" fill="none"/>
<circle cx="237.20" cy="276.80" r="3.6" fill="#c9252f"/>
<path d="M246.60,276.60V284.60M242.30,276.60H250.90M242.30,284.60H250.90" stroke="#c9252f" stroke-width="1.8" fill="none"/>
<circle cx="246.60" cy="280.60" r="3.6" fill="#c9252f"/>
<path d="M259.50,279.70V287.70M255.20,279.70H263.80M255.20,287.70H263.80" stroke="#c9252f" stroke-width="1.8" fill="none"/>
<circle cx="259.50" cy="283.70" r="3.6" fill="#c9252f"/>
<path d="M288.70,287.30V295.30M284.40,287.30H293.00M284.40,295.30H293.00" stroke="#c9252f" stroke-width="1.8" fill="none"/>
<circle cx="288.70" cy="291.30" r="3.6" fill="#c9252f"/><rect x="65.5" y="255.5" width="271.0" height="217.0" fill="none" stroke="#333333" stroke-width="1.0"/><line x1="444.50" y1="255.5" x2="444.50" y2="472.6" stroke="#d4d4d4" stroke-width="0.7" stroke-dasharray="2.5 1.5"/>
<line x1="444.50" y1="472.6" x2="444.50" y2="471.1" stroke="#333333" stroke-width="0.8"/>
<line x1="444.50" y1="255.5" x2="444.50" y2="257.0" stroke="#333333" stroke-width="0.8"/>
<line x1="455.50" y1="255.5" x2="455.50" y2="472.6" stroke="#d4d4d4" stroke-width="0.7" stroke-dasharray="2.5 1.5"/>
<line x1="455.50" y1="472.6" x2="455.50" y2="471.1" stroke="#333333" stroke-width="0.8"/>
<line x1="455.50" y1="255.5" x2="455.50" y2="257.0" stroke="#333333" stroke-width="0.8"/>
<line x1="463.50" y1="255.5" x2="463.50" y2="472.6" stroke="#d4d4d4" stroke-width="0.7" stroke-dasharray="2.5 1.5"/>
<line x1="463.50" y1="472.6" x2="463.50" y2="471.1" stroke="#333333" stroke-width="0.8"/>
<line x1="463.50" y1="255.5" x2="463.50" y2="257.0" stroke="#333333" stroke-width="0.8"/>
<line x1="470.50" y1="255.5" x2="470.50" y2="472.6" stroke="#d4d4d4" stroke-width="0.7" stroke-dasharray="2.5 1.5"/>
<line x1="470.50" y1="472.6" x2="470.50" y2="471.1" stroke="#333333" stroke-width="0.8"/>
<line x1="470.50" y1="255.5" x2="470.50" y2="257.0" stroke="#333333" stroke-width="0.8"/>
<line x1="476.50" y1="255.5" x2="476.50" y2="472.6" stroke="#d4d4d4" stroke-width="0.7" stroke-dasharray="2.5 1.5"/>
<line x1="476.50" y1="472.6" x2="476.50" y2="471.1" stroke="#333333" stroke-width="0.8"/>
<line x1="476.50" y1="255.5" x2="476.50" y2="257.0" stroke="#333333" stroke-width="0.8"/>
<line x1="482.50" y1="255.5" x2="482.50" y2="472.6" stroke="#d4d4d4" stroke-width="0.7" stroke-dasharray="2.5 1.5"/>
<line x1="482.50" y1="472.6" x2="482.50" y2="471.1" stroke="#333333" stroke-width="0.8"/>
<line x1="482.50" y1="255.5" x2="482.50" y2="257.0" stroke="#333333" stroke-width="0.8"/>
<line x1="519.50" y1="255.5" x2="519.50" y2="472.6" stroke="#d4d4d4" stroke-width="0.7" stroke-dasharray="2.5 1.5"/>
<line x1="519.50" y1="472.6" x2="519.50" y2="471.1" stroke="#333333" stroke-width="0.8"/>
<line x1="519.50" y1="255.5" x2="519.50" y2="257.0" stroke="#333333" stroke-width="0.8"/>
<line x1="551.50" y1="255.5" x2="551.50" y2="472.6" stroke="#d4d4d4" stroke-width="0.7" stroke-dasharray="2.5 1.5"/>
<line x1="551.50" y1="472.6" x2="551.50" y2="471.1" stroke="#333333" stroke-width="0.8"/>
<line x1="551.50" y1="255.5" x2="551.50" y2="257.0" stroke="#333333" stroke-width="0.8"/>
<line x1="561.50" y1="255.5" x2="561.50" y2="472.6" stroke="#d4d4d4" stroke-width="0.7" stroke-dasharray="2.5 1.5"/>
<line x1="561.50" y1="472.6" x2="561.50" y2="471.1" stroke="#333333" stroke-width="0.8"/>
<line x1="561.50" y1="255.5" x2="561.50" y2="257.0" stroke="#333333" stroke-width="0.8"/>
<line x1="569.50" y1="255.5" x2="569.50" y2="472.6" stroke="#d4d4d4" stroke-width="0.7" stroke-dasharray="2.5 1.5"/>
<line x1="569.50" y1="472.6" x2="569.50" y2="471.1" stroke="#333333" stroke-width="0.8"/>
<line x1="569.50" y1="255.5" x2="569.50" y2="257.0" stroke="#333333" stroke-width="0.8"/>
<line x1="577.50" y1="255.5" x2="577.50" y2="472.6" stroke="#d4d4d4" stroke-width="0.7" stroke-dasharray="2.5 1.5"/>
<line x1="577.50" y1="472.6" x2="577.50" y2="471.1" stroke="#333333" stroke-width="0.8"/>
<line x1="577.50" y1="255.5" x2="577.50" y2="257.0" stroke="#333333" stroke-width="0.8"/>
<line x1="583.50" y1="255.5" x2="583.50" y2="472.6" stroke="#d4d4d4" stroke-width="0.7" stroke-dasharray="2.5 1.5"/>
<line x1="583.50" y1="472.6" x2="583.50" y2="471.1" stroke="#333333" stroke-width="0.8"/>
<line x1="583.50" y1="255.5" x2="583.50" y2="257.0" stroke="#333333" stroke-width="0.8"/>
<line x1="588.50" y1="255.5" x2="588.50" y2="472.6" stroke="#d4d4d4" stroke-width="0.7" stroke-dasharray="2.5 1.5"/>
<line x1="588.50" y1="472.6" x2="588.50" y2="471.1" stroke="#333333" stroke-width="0.8"/>
<line x1="588.50" y1="255.5" x2="588.50" y2="257.0" stroke="#333333" stroke-width="0.8"/>
<line x1="625.50" y1="255.5" x2="625.50" y2="472.6" stroke="#d4d4d4" stroke-width="0.7" stroke-dasharray="2.5 1.5"/>
<line x1="625.50" y1="472.6" x2="625.50" y2="471.1" stroke="#333333" stroke-width="0.8"/>
<line x1="625.50" y1="255.5" x2="625.50" y2="257.0" stroke="#333333" stroke-width="0.8"/>
<line x1="657.50" y1="255.5" x2="657.50" y2="472.6" stroke="#d4d4d4" stroke-width="0.7" stroke-dasharray="2.5 1.5"/>
<line x1="657.50" y1="472.6" x2="657.50" y2="471.1" stroke="#333333" stroke-width="0.8"/>
<line x1="657.50" y1="255.5" x2="657.50" y2="257.0" stroke="#333333" stroke-width="0.8"/>
<line x1="668.50" y1="255.5" x2="668.50" y2="472.6" stroke="#d4d4d4" stroke-width="0.7" stroke-dasharray="2.5 1.5"/>
<line x1="668.50" y1="472.6" x2="668.50" y2="471.1" stroke="#333333" stroke-width="0.8"/>
<line x1="668.50" y1="255.5" x2="668.50" y2="257.0" stroke="#333333" stroke-width="0.8"/>
<line x1="676.50" y1="255.5" x2="676.50" y2="472.6" stroke="#d4d4d4" stroke-width="0.7" stroke-dasharray="2.5 1.5"/>
<line x1="676.50" y1="472.6" x2="676.50" y2="471.1" stroke="#333333" stroke-width="0.8"/>
<line x1="676.50" y1="255.5" x2="676.50" y2="257.0" stroke="#333333" stroke-width="0.8"/>
<line x1="412.7" y1="452.50" x2="683.6" y2="452.50" stroke="#d4d4d4" stroke-width="0.7" stroke-dasharray="2.5 1.5"/>
<line x1="412.7" y1="452.50" x2="414.2" y2="452.50" stroke="#333333" stroke-width="0.8"/>
<line x1="683.6" y1="452.50" x2="682.1" y2="452.50" stroke="#333333" stroke-width="0.8"/>
<line x1="412.7" y1="441.50" x2="683.6" y2="441.50" stroke="#d4d4d4" stroke-width="0.7" stroke-dasharray="2.5 1.5"/>
<line x1="412.7" y1="441.50" x2="414.2" y2="441.50" stroke="#333333" stroke-width="0.8"/>
<line x1="683.6" y1="441.50" x2="682.1" y2="441.50" stroke="#333333" stroke-width="0.8"/>
<line x1="412.7" y1="433.50" x2="683.6" y2="433.50" stroke="#d4d4d4" stroke-width="0.7" stroke-dasharray="2.5 1.5"/>
<line x1="412.7" y1="433.50" x2="414.2" y2="433.50" stroke="#333333" stroke-width="0.8"/>
<line x1="683.6" y1="433.50" x2="682.1" y2="433.50" stroke="#333333" stroke-width="0.8"/>
<line x1="412.7" y1="426.50" x2="683.6" y2="426.50" stroke="#d4d4d4" stroke-width="0.7" stroke-dasharray="2.5 1.5"/>
<line x1="412.7" y1="426.50" x2="414.2" y2="426.50" stroke="#333333" stroke-width="0.8"/>
<line x1="683.6" y1="426.50" x2="682.1" y2="426.50" stroke="#333333" stroke-width="0.8"/>
<line x1="412.7" y1="421.50" x2="683.6" y2="421.50" stroke="#d4d4d4" stroke-width="0.7" stroke-dasharray="2.5 1.5"/>
<line x1="412.7" y1="421.50" x2="414.2" y2="421.50" stroke="#333333" stroke-width="0.8"/>
<line x1="683.6" y1="421.50" x2="682.1" y2="421.50" stroke="#333333" stroke-width="0.8"/>
<line x1="412.7" y1="417.50" x2="683.6" y2="417.50" stroke="#d4d4d4" stroke-width="0.7" stroke-dasharray="2.5 1.5"/>
<line x1="412.7" y1="417.50" x2="414.2" y2="417.50" stroke="#333333" stroke-width="0.8"/>
<line x1="683.6" y1="417.50" x2="682.1" y2="417.50" stroke="#333333" stroke-width="0.8"/>
<line x1="412.7" y1="413.50" x2="683.6" y2="413.50" stroke="#d4d4d4" stroke-width="0.7" stroke-dasharray="2.5 1.5"/>
<line x1="412.7" y1="413.50" x2="414.2" y2="413.50" stroke="#333333" stroke-width="0.8"/>
<line x1="683.6" y1="413.50" x2="682.1" y2="413.50" stroke="#333333" stroke-width="0.8"/>
<line x1="412.7" y1="409.50" x2="683.6" y2="409.50" stroke="#d4d4d4" stroke-width="0.7" stroke-dasharray="2.5 1.5"/>
<line x1="412.7" y1="409.50" x2="414.2" y2="409.50" stroke="#333333" stroke-width="0.8"/>
<line x1="683.6" y1="409.50" x2="682.1" y2="409.50" stroke="#333333" stroke-width="0.8"/>
<line x1="412.7" y1="387.50" x2="683.6" y2="387.50" stroke="#d4d4d4" stroke-width="0.7" stroke-dasharray="2.5 1.5"/>
<line x1="412.7" y1="387.50" x2="414.2" y2="387.50" stroke="#333333" stroke-width="0.8"/>
<line x1="683.6" y1="387.50" x2="682.1" y2="387.50" stroke="#333333" stroke-width="0.8"/>
<line x1="412.7" y1="375.50" x2="683.6" y2="375.50" stroke="#d4d4d4" stroke-width="0.7" stroke-dasharray="2.5 1.5"/>
<line x1="412.7" y1="375.50" x2="414.2" y2="375.50" stroke="#333333" stroke-width="0.8"/>
<line x1="683.6" y1="375.50" x2="682.1" y2="375.50" stroke="#333333" stroke-width="0.8"/>
<line x1="412.7" y1="367.50" x2="683.6" y2="367.50" stroke="#d4d4d4" stroke-width="0.7" stroke-dasharray="2.5 1.5"/>
<line x1="412.7" y1="367.50" x2="414.2" y2="367.50" stroke="#333333" stroke-width="0.8"/>
<line x1="683.6" y1="367.50" x2="682.1" y2="367.50" stroke="#333333" stroke-width="0.8"/>
<line x1="412.7" y1="360.50" x2="683.6" y2="360.50" stroke="#d4d4d4" stroke-width="0.7" stroke-dasharray="2.5 1.5"/>
<line x1="412.7" y1="360.50" x2="414.2" y2="360.50" stroke="#333333" stroke-width="0.8"/>
<line x1="683.6" y1="360.50" x2="682.1" y2="360.50" stroke="#333333" stroke-width="0.8"/>
<line x1="412.7" y1="355.50" x2="683.6" y2="355.50" stroke="#d4d4d4" stroke-width="0.7" stroke-dasharray="2.5 1.5"/>
<line x1="412.7" y1="355.50" x2="414.2" y2="355.50" stroke="#333333" stroke-width="0.8"/>
<line x1="683.6" y1="355.50" x2="682.1" y2="355.50" stroke="#333333" stroke-width="0.8"/>
<line x1="412.7" y1="351.50" x2="683.6" y2="351.50" stroke="#d4d4d4" stroke-width="0.7" stroke-dasharray="2.5 1.5"/>
<line x1="412.7" y1="351.50" x2="414.2" y2="351.50" stroke="#333333" stroke-width="0.8"/>
<line x1="683.6" y1="351.50" x2="682.1" y2="351.50" stroke="#333333" stroke-width="0.8"/>
<line x1="412.7" y1="347.50" x2="683.6" y2="347.50" stroke="#d4d4d4" stroke-width="0.7" stroke-dasharray="2.5 1.5"/>
<line x1="412.7" y1="347.50" x2="414.2" y2="347.50" stroke="#333333" stroke-width="0.8"/>
<line x1="683.6" y1="347.50" x2="682.1" y2="347.50" stroke="#333333" stroke-width="0.8"/>
<line x1="412.7" y1="344.50" x2="683.6" y2="344.50" stroke="#d4d4d4" stroke-width="0.7" stroke-dasharray="2.5 1.5"/>
<line x1="412.7" y1="344.50" x2="414.2" y2="344.50" stroke="#333333" stroke-width="0.8"/>
<line x1="683.6" y1="344.50" x2="682.1" y2="344.50" stroke="#333333" stroke-width="0.8"/>
<line x1="412.7" y1="321.50" x2="683.6" y2="321.50" stroke="#d4d4d4" stroke-width="0.7" stroke-dasharray="2.5 1.5"/>
<line x1="412.7" y1="321.50" x2="414.2" y2="321.50" stroke="#333333" stroke-width="0.8"/>
<line x1="683.6" y1="321.50" x2="682.1" y2="321.50" stroke="#333333" stroke-width="0.8"/>
<line x1="412.7" y1="301.50" x2="683.6" y2="301.50" stroke="#d4d4d4" stroke-width="0.7" stroke-dasharray="2.5 1.5"/>
<line x1="412.7" y1="301.50" x2="414.2" y2="301.50" stroke="#333333" stroke-width="0.8"/>
<line x1="683.6" y1="301.50" x2="682.1" y2="301.50" stroke="#333333" stroke-width="0.8"/>
<line x1="412.7" y1="295.50" x2="683.6" y2="295.50" stroke="#d4d4d4" stroke-width="0.7" stroke-dasharray="2.5 1.5"/>
<line x1="412.7" y1="295.50" x2="414.2" y2="295.50" stroke="#333333" stroke-width="0.8"/>
<line x1="683.6" y1="295.50" x2="682.1" y2="295.50" stroke="#333333" stroke-width="0.8"/>
<line x1="412.7" y1="289.50" x2="683.6" y2="289.50" stroke="#d4d4d4" stroke-width="0.7" stroke-dasharray="2.5 1.5"/>
<line x1="412.7" y1="289.50" x2="414.2" y2="289.50" stroke="#333333" stroke-width="0.8"/>
<line x1="683.6" y1="289.50" x2="682.1" y2="289.50" stroke="#333333" stroke-width="0.8"/>
<line x1="412.7" y1="285.50" x2="683.6" y2="285.50" stroke="#d4d4d4" stroke-width="0.7" stroke-dasharray="2.5 1.5"/>
<line x1="412.7" y1="285.50" x2="414.2" y2="285.50" stroke="#333333" stroke-width="0.8"/>
<line x1="683.6" y1="285.50" x2="682.1" y2="285.50" stroke="#333333" stroke-width="0.8"/>
<line x1="412.7" y1="281.50" x2="683.6" y2="281.50" stroke="#d4d4d4" stroke-width="0.7" stroke-dasharray="2.5 1.5"/>
<line x1="412.7" y1="281.50" x2="414.2" y2="281.50" stroke="#333333" stroke-width="0.8"/>
<line x1="683.6" y1="281.50" x2="682.1" y2="281.50" stroke="#333333" stroke-width="0.8"/>
<line x1="412.7" y1="278.50" x2="683.6" y2="278.50" stroke="#d4d4d4" stroke-width="0.7" stroke-dasharray="2.5 1.5"/>
<line x1="412.7" y1="278.50" x2="414.2" y2="278.50" stroke="#333333" stroke-width="0.8"/>
<line x1="683.6" y1="278.50" x2="682.1" y2="278.50" stroke="#333333" stroke-width="0.8"/>
<line x1="431.50" y1="255.5" x2="431.50" y2="472.6" stroke="#d8d8d8" stroke-width="0.8"/>
<line x1="431.50" y1="472.6" x2="431.50" y2="469.6" stroke="#333333" stroke-width="1"/>
<line x1="431.50" y1="255.5" x2="431.50" y2="258.5" stroke="#333333" stroke-width="1"/>
<line x1="487.50" y1="255.5" x2="487.50" y2="472.6" stroke="#d8d8d8" stroke-width="0.8"/>
<line x1="487.50" y1="472.6" x2="487.50" y2="469.6" stroke="#333333" stroke-width="1"/>
<line x1="487.50" y1="255.5" x2="487.50" y2="258.5" stroke="#333333" stroke-width="1"/>
<line x1="537.50" y1="255.5" x2="537.50" y2="472.6" stroke="#d8d8d8" stroke-width="0.8"/>
<line x1="537.50" y1="472.6" x2="537.50" y2="469.6" stroke="#333333" stroke-width="1"/>
<line x1="537.50" y1="255.5" x2="537.50" y2="258.5" stroke="#333333" stroke-width="1"/>
<line x1="593.50" y1="255.5" x2="593.50" y2="472.6" stroke="#d8d8d8" stroke-width="0.8"/>
<line x1="593.50" y1="472.6" x2="593.50" y2="469.6" stroke="#333333" stroke-width="1"/>
<line x1="593.50" y1="255.5" x2="593.50" y2="258.5" stroke="#333333" stroke-width="1"/>
<line x1="644.50" y1="255.5" x2="644.50" y2="472.6" stroke="#d8d8d8" stroke-width="0.8"/>
<line x1="644.50" y1="472.6" x2="644.50" y2="469.6" stroke="#333333" stroke-width="1"/>
<line x1="644.50" y1="255.5" x2="644.50" y2="258.5" stroke="#333333" stroke-width="1"/>
<line x1="412.7" y1="406.50" x2="683.6" y2="406.50" stroke="#d8d8d8" stroke-width="0.8"/>
<line x1="412.7" y1="406.50" x2="415.7" y2="406.50" stroke="#333333" stroke-width="1"/>
<line x1="683.6" y1="406.50" x2="680.6" y2="406.50" stroke="#333333" stroke-width="1"/>
<line x1="412.7" y1="341.50" x2="683.6" y2="341.50" stroke="#d8d8d8" stroke-width="0.8"/>
<line x1="412.7" y1="341.50" x2="415.7" y2="341.50" stroke="#333333" stroke-width="1"/>
<line x1="683.6" y1="341.50" x2="680.6" y2="341.50" stroke="#333333" stroke-width="1"/>
<line x1="412.7" y1="309.50" x2="683.6" y2="309.50" stroke="#d8d8d8" stroke-width="0.8"/>
<line x1="412.7" y1="309.50" x2="415.7" y2="309.50" stroke="#333333" stroke-width="1"/>
<line x1="683.6" y1="309.50" x2="680.6" y2="309.50" stroke="#333333" stroke-width="1"/>
<line x1="412.7" y1="275.50" x2="683.6" y2="275.50" stroke="#d8d8d8" stroke-width="0.8"/>
<line x1="412.7" y1="275.50" x2="415.7" y2="275.50" stroke="#333333" stroke-width="1"/>
<line x1="683.6" y1="275.50" x2="680.6" y2="275.50" stroke="#333333" stroke-width="1"/><text x="431.45" y="495.1" text-anchor="middle" class="tk">0.3</text><text x="487.13" y="495.1" text-anchor="middle" class="tk">1</text><text x="537.93" y="495.1" text-anchor="middle" class="tk">3</text><text x="593.61" y="495.1" text-anchor="middle" class="tk">10</text><text x="644.42" y="495.1" text-anchor="middle" class="tk">30</text><text x="405.7" y="478.80" text-anchor="end" class="tk">0.001</text><text x="405.7" y="413.03" text-anchor="end" class="tk">0.01</text><text x="405.7" y="347.27" text-anchor="end" class="tk">0.1</text><text x="405.7" y="315.89" text-anchor="end" class="tk">0.3</text><text x="405.7" y="281.50" text-anchor="end" class="tk">1</text><text x="405.7" y="261.70" text-anchor="end" class="tk">2</text><polyline points="481.00,343.40 497.20,338.60 505.40,334.80 513.10,329.50 519.60,325.70 524.70,320.00 530.60,315.50 537.90,310.50 543.00,309.00 549.50,305.00 555.40,303.50 559.80,305.00 564.90,305.00 570.00,302.00 575.80,305.50 584.10,304.00 593.50,308.50 606.40,312.00 635.60,321.00" fill="none" stroke="#1c3a80" stroke-width="2.3" stroke-linejoin="round"/>
<path d="M481.00,339.40V347.40M476.70,339.40H485.30M476.70,347.40H485.30" stroke="#1c3a80" stroke-width="1.8" fill="none"/>
<circle cx="481.00" cy="343.40" r="3.6" fill="#1c3a80"/>
<path d="M497.20,334.60V342.60M492.90,334.60H501.50M492.90,342.60H501.50" stroke="#1c3a80" stroke-width="1.8" fill="none"/>
<circle cx="497.20" cy="338.60" r="3.6" fill="#1c3a80"/>
<path d="M505.40,330.80V338.80M501.10,330.80H509.70M501.10,338.80H509.70" stroke="#1c3a80" stroke-width="1.8" fill="none"/>
<circle cx="505.40" cy="334.80" r="3.6" fill="#1c3a80"/>
<path d="M513.10,325.50V333.50M508.80,325.50H517.40M508.80,333.50H517.40" stroke="#1c3a80" stroke-width="1.8" fill="none"/>
<circle cx="513.10" cy="329.50" r="3.6" fill="#1c3a80"/>
<path d="M519.60,321.70V329.70M515.30,321.70H523.90M515.30,329.70H523.90" stroke="#1c3a80" stroke-width="1.8" fill="none"/>
<circle cx="519.60" cy="325.70" r="3.6" fill="#1c3a80"/>
<path d="M524.70,316.00V324.00M520.40,316.00H529.00M520.40,324.00H529.00" stroke="#1c3a80" stroke-width="1.8" fill="none"/>
<circle cx="524.70" cy="320.00" r="3.6" fill="#1c3a80"/>
<path d="M530.60,311.50V319.50M526.30,311.50H534.90M526.30,319.50H534.90" stroke="#1c3a80" stroke-width="1.8" fill="none"/>
<circle cx="530.60" cy="315.50" r="3.6" fill="#1c3a80"/>
<path d="M537.90,306.50V314.50M533.60,306.50H542.20M533.60,314.50H542.20" stroke="#1c3a80" stroke-width="1.8" fill="none"/>
<circle cx="537.90" cy="310.50" r="3.6" fill="#1c3a80"/>
<path d="M543.00,305.00V313.00M538.70,305.00H547.30M538.70,313.00H547.30" stroke="#1c3a80" stroke-width="1.8" fill="none"/>
<circle cx="543.00" cy="309.00" r="3.6" fill="#1c3a80"/>
<path d="M549.50,301.00V309.00M545.20,301.00H553.80M545.20,309.00H553.80" stroke="#1c3a80" stroke-width="1.8" fill="none"/>
<circle cx="549.50" cy="305.00" r="3.6" fill="#1c3a80"/>
<path d="M555.40,299.50V307.50M551.10,299.50H559.70M551.10,307.50H559.70" stroke="#1c3a80" stroke-width="1.8" fill="none"/>
<circle cx="555.40" cy="303.50" r="3.6" fill="#1c3a80"/>
<path d="M559.80,301.00V309.00M555.50,301.00H564.10M555.50,309.00H564.10" stroke="#1c3a80" stroke-width="1.8" fill="none"/>
<circle cx="559.80" cy="305.00" r="3.6" fill="#1c3a80"/>
<path d="M564.90,301.00V309.00M560.60,301.00H569.20M560.60,309.00H569.20" stroke="#1c3a80" stroke-width="1.8" fill="none"/>
<circle cx="564.90" cy="305.00" r="3.6" fill="#1c3a80"/>
<path d="M570.00,298.00V306.00M565.70,298.00H574.30M565.70,306.00H574.30" stroke="#1c3a80" stroke-width="1.8" fill="none"/>
<circle cx="570.00" cy="302.00" r="3.6" fill="#1c3a80"/>
<path d="M575.80,301.50V309.50M571.50,301.50H580.10M571.50,309.50H580.10" stroke="#1c3a80" stroke-width="1.8" fill="none"/>
<circle cx="575.80" cy="305.50" r="3.6" fill="#1c3a80"/>
<path d="M584.10,300.00V308.00M579.80,300.00H588.40M579.80,308.00H588.40" stroke="#1c3a80" stroke-width="1.8" fill="none"/>
<circle cx="584.10" cy="304.00" r="3.6" fill="#1c3a80"/>
<path d="M593.50,304.50V312.50M589.20,304.50H597.80M589.20,312.50H597.80" stroke="#1c3a80" stroke-width="1.8" fill="none"/>
<circle cx="593.50" cy="308.50" r="3.6" fill="#1c3a80"/>
<path d="M606.40,308.00V316.00M602.10,308.00H610.70M602.10,316.00H610.70" stroke="#1c3a80" stroke-width="1.8" fill="none"/>
<circle cx="606.40" cy="312.00" r="3.6" fill="#1c3a80"/>
<path d="M635.60,317.00V325.00M631.30,317.00H639.90M631.30,325.00H639.90" stroke="#1c3a80" stroke-width="1.8" fill="none"/>
<circle cx="635.60" cy="321.00" r="3.6" fill="#1c3a80"/><polyline points="481.00,352.00 497.20,345.80 505.40,341.50 513.10,333.00 519.60,327.20 524.70,320.00 530.60,316.00 537.90,311.00 543.00,310.00 549.50,306.00 555.40,303.00 559.80,304.00 564.90,304.50 570.00,300.70 575.80,304.50 584.10,302.20 593.50,307.60 606.40,311.70 635.60,320.60" fill="none" stroke="#4b8bc7" stroke-width="2.3" stroke-linejoin="round"/>
<path d="M481.00,348.00V356.00M476.70,348.00H485.30M476.70,356.00H485.30" stroke="#4b8bc7" stroke-width="1.8" fill="none"/>
<circle cx="481.00" cy="352.00" r="3.6" fill="#4b8bc7"/>
<path d="M497.20,341.80V349.80M492.90,341.80H501.50M492.90,349.80H501.50" stroke="#4b8bc7" stroke-width="1.8" fill="none"/>
<circle cx="497.20" cy="345.80" r="3.6" fill="#4b8bc7"/>
<path d="M505.40,337.50V345.50M501.10,337.50H509.70M501.10,345.50H509.70" stroke="#4b8bc7" stroke-width="1.8" fill="none"/>
<circle cx="505.40" cy="341.50" r="3.6" fill="#4b8bc7"/>
<path d="M513.10,329.00V337.00M508.80,329.00H517.40M508.80,337.00H517.40" stroke="#4b8bc7" stroke-width="1.8" fill="none"/>
<circle cx="513.10" cy="333.00" r="3.6" fill="#4b8bc7"/>
<path d="M519.60,323.20V331.20M515.30,323.20H523.90M515.30,331.20H523.90" stroke="#4b8bc7" stroke-width="1.8" fill="none"/>
<circle cx="519.60" cy="327.20" r="3.6" fill="#4b8bc7"/>
<path d="M524.70,316.00V324.00M520.40,316.00H529.00M520.40,324.00H529.00" stroke="#4b8bc7" stroke-width="1.8" fill="none"/>
<circle cx="524.70" cy="320.00" r="3.6" fill="#4b8bc7"/>
<path d="M530.60,312.00V320.00M526.30,312.00H534.90M526.30,320.00H534.90" stroke="#4b8bc7" stroke-width="1.8" fill="none"/>
<circle cx="530.60" cy="316.00" r="3.6" fill="#4b8bc7"/>
<path d="M537.90,307.00V315.00M533.60,307.00H542.20M533.60,315.00H542.20" stroke="#4b8bc7" stroke-width="1.8" fill="none"/>
<circle cx="537.90" cy="311.00" r="3.6" fill="#4b8bc7"/>
<path d="M543.00,306.00V314.00M538.70,306.00H547.30M538.70,314.00H547.30" stroke="#4b8bc7" stroke-width="1.8" fill="none"/>
<circle cx="543.00" cy="310.00" r="3.6" fill="#4b8bc7"/>
<path d="M549.50,302.00V310.00M545.20,302.00H553.80M545.20,310.00H553.80" stroke="#4b8bc7" stroke-width="1.8" fill="none"/>
<circle cx="549.50" cy="306.00" r="3.6" fill="#4b8bc7"/>
<path d="M555.40,299.00V307.00M551.10,299.00H559.70M551.10,307.00H559.70" stroke="#4b8bc7" stroke-width="1.8" fill="none"/>
<circle cx="555.40" cy="303.00" r="3.6" fill="#4b8bc7"/>
<path d="M559.80,300.00V308.00M555.50,300.00H564.10M555.50,308.00H564.10" stroke="#4b8bc7" stroke-width="1.8" fill="none"/>
<circle cx="559.80" cy="304.00" r="3.6" fill="#4b8bc7"/>
<path d="M564.90,300.50V308.50M560.60,300.50H569.20M560.60,308.50H569.20" stroke="#4b8bc7" stroke-width="1.8" fill="none"/>
<circle cx="564.90" cy="304.50" r="3.6" fill="#4b8bc7"/>
<path d="M570.00,296.70V304.70M565.70,296.70H574.30M565.70,304.70H574.30" stroke="#4b8bc7" stroke-width="1.8" fill="none"/>
<circle cx="570.00" cy="300.70" r="3.6" fill="#4b8bc7"/>
<path d="M575.80,300.50V308.50M571.50,300.50H580.10M571.50,308.50H580.10" stroke="#4b8bc7" stroke-width="1.8" fill="none"/>
<circle cx="575.80" cy="304.50" r="3.6" fill="#4b8bc7"/>
<path d="M584.10,298.20V306.20M579.80,298.20H588.40M579.80,306.20H588.40" stroke="#4b8bc7" stroke-width="1.8" fill="none"/>
<circle cx="584.10" cy="302.20" r="3.6" fill="#4b8bc7"/>
<path d="M593.50,303.60V311.60M589.20,303.60H597.80M589.20,311.60H597.80" stroke="#4b8bc7" stroke-width="1.8" fill="none"/>
<circle cx="593.50" cy="307.60" r="3.6" fill="#4b8bc7"/>
<path d="M606.40,307.70V315.70M602.10,307.70H610.70M602.10,315.70H610.70" stroke="#4b8bc7" stroke-width="1.8" fill="none"/>
<circle cx="606.40" cy="311.70" r="3.6" fill="#4b8bc7"/>
<path d="M635.60,316.60V324.60M631.30,316.60H639.90M631.30,324.60H639.90" stroke="#4b8bc7" stroke-width="1.8" fill="none"/>
<circle cx="635.60" cy="320.60" r="3.6" fill="#4b8bc7"/><polyline points="481.00,427.60 497.20,422.10 505.40,426.70 513.10,425.40 519.60,424.70 524.70,424.70 530.60,425.00 537.90,422.50 543.00,423.00 549.50,421.50 555.40,419.00 559.80,416.50 564.90,420.00 570.00,421.10 575.80,421.90 584.10,422.70 593.50,425.90 606.40,427.50 635.60,432.30" fill="none" stroke="#9dcfe2" stroke-width="2.3" stroke-linejoin="round"/>
<path d="M481.00,423.10V432.10M476.70,423.10H485.30M476.70,432.10H485.30" stroke="#9dcfe2" stroke-width="1.8" fill="none"/>
<circle cx="481.00" cy="427.60" r="3.6" fill="#9dcfe2"/>
<path d="M497.20,417.60V426.60M492.90,417.60H501.50M492.90,426.60H501.50" stroke="#9dcfe2" stroke-width="1.8" fill="none"/>
<circle cx="497.20" cy="422.10" r="3.6" fill="#9dcfe2"/>
<path d="M505.40,422.70V430.70M501.10,422.70H509.70M501.10,430.70H509.70" stroke="#9dcfe2" stroke-width="1.8" fill="none"/>
<circle cx="505.40" cy="426.70" r="3.6" fill="#9dcfe2"/>
<path d="M513.10,422.40V428.40M508.80,422.40H517.40M508.80,428.40H517.40" stroke="#9dcfe2" stroke-width="1.8" fill="none"/>
<circle cx="513.10" cy="425.40" r="3.6" fill="#9dcfe2"/>
<path d="M519.60,421.70V427.70M515.30,421.70H523.90M515.30,427.70H523.90" stroke="#9dcfe2" stroke-width="1.8" fill="none"/>
<circle cx="519.60" cy="424.70" r="3.6" fill="#9dcfe2"/>
<path d="M524.70,421.70V427.70M520.40,421.70H529.00M520.40,427.70H529.00" stroke="#9dcfe2" stroke-width="1.8" fill="none"/>
<circle cx="524.70" cy="424.70" r="3.6" fill="#9dcfe2"/>
<path d="M530.60,422.00V428.00M526.30,422.00H534.90M526.30,428.00H534.90" stroke="#9dcfe2" stroke-width="1.8" fill="none"/>
<circle cx="530.60" cy="425.00" r="3.6" fill="#9dcfe2"/>
<path d="M537.90,419.50V425.50M533.60,419.50H542.20M533.60,425.50H542.20" stroke="#9dcfe2" stroke-width="1.8" fill="none"/>
<circle cx="537.90" cy="422.50" r="3.6" fill="#9dcfe2"/>
<path d="M543.00,420.00V426.00M538.70,420.00H547.30M538.70,426.00H547.30" stroke="#9dcfe2" stroke-width="1.8" fill="none"/>
<circle cx="543.00" cy="423.00" r="3.6" fill="#9dcfe2"/>
<path d="M549.50,418.50V424.50M545.20,418.50H553.80M545.20,424.50H553.80" stroke="#9dcfe2" stroke-width="1.8" fill="none"/>
<circle cx="549.50" cy="421.50" r="3.6" fill="#9dcfe2"/>
<path d="M555.40,416.00V422.00M551.10,416.00H559.70M551.10,422.00H559.70" stroke="#9dcfe2" stroke-width="1.8" fill="none"/>
<circle cx="555.40" cy="419.00" r="3.6" fill="#9dcfe2"/>
<path d="M559.80,413.50V419.50M555.50,413.50H564.10M555.50,419.50H564.10" stroke="#9dcfe2" stroke-width="1.8" fill="none"/>
<circle cx="559.80" cy="416.50" r="3.6" fill="#9dcfe2"/>
<path d="M564.90,417.00V423.00M560.60,417.00H569.20M560.60,423.00H569.20" stroke="#9dcfe2" stroke-width="1.8" fill="none"/>
<circle cx="564.90" cy="420.00" r="3.6" fill="#9dcfe2"/>
<path d="M570.00,418.10V424.10M565.70,418.10H574.30M565.70,424.10H574.30" stroke="#9dcfe2" stroke-width="1.8" fill="none"/>
<circle cx="570.00" cy="421.10" r="3.6" fill="#9dcfe2"/>
<path d="M575.80,419.40V424.40M571.50,419.40H580.10M571.50,424.40H580.10" stroke="#9dcfe2" stroke-width="1.8" fill="none"/>
<circle cx="575.80" cy="421.90" r="3.6" fill="#9dcfe2"/>
<path d="M584.10,420.20V425.20M579.80,420.20H588.40M579.80,425.20H588.40" stroke="#9dcfe2" stroke-width="1.8" fill="none"/>
<circle cx="584.10" cy="422.70" r="3.6" fill="#9dcfe2"/>
<path d="M593.50,423.40V428.40M589.20,423.40H597.80M589.20,428.40H597.80" stroke="#9dcfe2" stroke-width="1.8" fill="none"/>
<circle cx="593.50" cy="425.90" r="3.6" fill="#9dcfe2"/>
<path d="M606.40,425.00V430.00M602.10,425.00H610.70M602.10,430.00H610.70" stroke="#9dcfe2" stroke-width="1.8" fill="none"/>
<circle cx="606.40" cy="427.50" r="3.6" fill="#9dcfe2"/>
<path d="M635.60,429.80V434.80M631.30,429.80H639.90M631.30,434.80H639.90" stroke="#9dcfe2" stroke-width="1.8" fill="none"/>
<circle cx="635.60" cy="432.30" r="3.6" fill="#9dcfe2"/><polyline points="481.00,327.40 497.20,321.10 505.40,318.00 513.10,311.20 519.60,307.40 524.70,304.30 530.60,299.00 537.90,295.00 543.00,292.00 549.50,286.00 555.40,283.00 559.80,284.20 564.90,283.50 570.00,281.50 575.80,284.50 584.10,283.00 593.50,287.60 606.40,291.50 635.60,300.70" fill="none" stroke="#c9252f" stroke-width="2.3" stroke-linejoin="round"/>
<path d="M481.00,323.40V331.40M476.70,323.40H485.30M476.70,331.40H485.30" stroke="#c9252f" stroke-width="1.8" fill="none"/>
<circle cx="481.00" cy="327.40" r="3.6" fill="#c9252f"/>
<path d="M497.20,317.10V325.10M492.90,317.10H501.50M492.90,325.10H501.50" stroke="#c9252f" stroke-width="1.8" fill="none"/>
<circle cx="497.20" cy="321.10" r="3.6" fill="#c9252f"/>
<path d="M505.40,314.00V322.00M501.10,314.00H509.70M501.10,322.00H509.70" stroke="#c9252f" stroke-width="1.8" fill="none"/>
<circle cx="505.40" cy="318.00" r="3.6" fill="#c9252f"/>
<path d="M513.10,307.20V315.20M508.80,307.20H517.40M508.80,315.20H517.40" stroke="#c9252f" stroke-width="1.8" fill="none"/>
<circle cx="513.10" cy="311.20" r="3.6" fill="#c9252f"/>
<path d="M519.60,303.40V311.40M515.30,303.40H523.90M515.30,311.40H523.90" stroke="#c9252f" stroke-width="1.8" fill="none"/>
<circle cx="519.60" cy="307.40" r="3.6" fill="#c9252f"/>
<path d="M524.70,300.30V308.30M520.40,300.30H529.00M520.40,308.30H529.00" stroke="#c9252f" stroke-width="1.8" fill="none"/>
<circle cx="524.70" cy="304.30" r="3.6" fill="#c9252f"/>
<path d="M530.60,295.00V303.00M526.30,295.00H534.90M526.30,303.00H534.90" stroke="#c9252f" stroke-width="1.8" fill="none"/>
<circle cx="530.60" cy="299.00" r="3.6" fill="#c9252f"/>
<path d="M537.90,291.00V299.00M533.60,291.00H542.20M533.60,299.00H542.20" stroke="#c9252f" stroke-width="1.8" fill="none"/>
<circle cx="537.90" cy="295.00" r="3.6" fill="#c9252f"/>
<path d="M543.00,288.00V296.00M538.70,288.00H547.30M538.70,296.00H547.30" stroke="#c9252f" stroke-width="1.8" fill="none"/>
<circle cx="543.00" cy="292.00" r="3.6" fill="#c9252f"/>
<path d="M549.50,282.00V290.00M545.20,282.00H553.80M545.20,290.00H553.80" stroke="#c9252f" stroke-width="1.8" fill="none"/>
<circle cx="549.50" cy="286.00" r="3.6" fill="#c9252f"/>
<path d="M555.40,279.00V287.00M551.10,279.00H559.70M551.10,287.00H559.70" stroke="#c9252f" stroke-width="1.8" fill="none"/>
<circle cx="555.40" cy="283.00" r="3.6" fill="#c9252f"/>
<path d="M559.80,280.20V288.20M555.50,280.20H564.10M555.50,288.20H564.10" stroke="#c9252f" stroke-width="1.8" fill="none"/>
<circle cx="559.80" cy="284.20" r="3.6" fill="#c9252f"/>
<path d="M564.90,279.50V287.50M560.60,279.50H569.20M560.60,287.50H569.20" stroke="#c9252f" stroke-width="1.8" fill="none"/>
<circle cx="564.90" cy="283.50" r="3.6" fill="#c9252f"/>
<path d="M570.00,277.50V285.50M565.70,277.50H574.30M565.70,285.50H574.30" stroke="#c9252f" stroke-width="1.8" fill="none"/>
<circle cx="570.00" cy="281.50" r="3.6" fill="#c9252f"/>
<path d="M575.80,280.50V288.50M571.50,280.50H580.10M571.50,288.50H580.10" stroke="#c9252f" stroke-width="1.8" fill="none"/>
<circle cx="575.80" cy="284.50" r="3.6" fill="#c9252f"/>
<path d="M584.10,279.00V287.00M579.80,279.00H588.40M579.80,287.00H588.40" stroke="#c9252f" stroke-width="1.8" fill="none"/>
<circle cx="584.10" cy="283.00" r="3.6" fill="#c9252f"/>
<path d="M593.50,283.60V291.60M589.20,283.60H597.80M589.20,291.60H597.80" stroke="#c9252f" stroke-width="1.8" fill="none"/>
<circle cx="593.50" cy="287.60" r="3.6" fill="#c9252f"/>
<path d="M606.40,287.50V295.50M602.10,287.50H610.70M602.10,295.50H610.70" stroke="#c9252f" stroke-width="1.8" fill="none"/>
<circle cx="606.40" cy="291.50" r="3.6" fill="#c9252f"/>
<path d="M635.60,296.70V304.70M631.30,296.70H639.90M631.30,304.70H639.90" stroke="#c9252f" stroke-width="1.8" fill="none"/>
<circle cx="635.60" cy="300.70" r="3.6" fill="#c9252f"/><rect x="412.5" y="255.5" width="271.0" height="217.0" fill="none" stroke="#333333" stroke-width="1.0"/><text x="68.5" y="216" class="pl">(a)</text><text x="415.5" y="216" class="pl">(b)</text><text x="68.5" y="465.5" class="pl">(c)</text><text x="415.5" y="465.5" class="pl">(d)</text><text x="682" y="219" text-anchor="end" class="pl" style="font-size:18.5px">N = 80264</text><text transform="translate(25.2,114.5) rotate(-90)" text-anchor="middle" class="yl">BT of Core (K)</text><text transform="translate(380.5,114.5) rotate(-90)" text-anchor="middle" class="yl">Duration (h)</text><text transform="translate(21.5,360.7) rotate(-90)" text-anchor="middle" class="yl" style="font-size:19.6px">Total Area  (×10<tspan dy="-10" font-size="14">6</tspan><tspan dy="10"> km</tspan><tspan dy="-10" font-size="14">2</tspan><tspan dy="10">)</tspan></text><text transform="translate(359,363.7) rotate(-90)" text-anchor="middle" class="yl">Rainfall Amount (km<tspan dy="-10" font-size="14">3</tspan><tspan dy="10">)</tspan></text><text x="301.7" y="518.6" class="yl">Fine Aerosol (μg/m<tspan dy="-9.5" font-size="14">3</tspan><tspan dy="9.5">)</tspan></text><line x1="428" y1="15.7" x2="456.8" y2="15.7" stroke="#1c3a80" stroke-width="2.3"/><circle cx="442.4" cy="15.7" r="3.4" fill="#1c3a80"/><text x="460.5" y="22.0" class="lg">Development</text><line x1="428" y1="33.9" x2="456.8" y2="33.9" stroke="#4b8bc7" stroke-width="2.3"/><circle cx="442.4" cy="33.9" r="3.4" fill="#4b8bc7"/><text x="460.5" y="40.199999999999996" class="lg">Attenuation</text><line x1="428" y1="52.1" x2="456.8" y2="52.1" stroke="#9dcfe2" stroke-width="2.3"/><circle cx="442.4" cy="52.1" r="3.4" fill="#9dcfe2"/><text x="460.5" y="58.4" class="lg">Dissipation</text><line x1="428" y1="70.3" x2="456.8" y2="70.3" stroke="#c9252f" stroke-width="2.3"/><circle cx="442.4" cy="70.3" r="3.4" fill="#c9252f"/><text x="460.5" y="76.6" class="lg">Alltime</text></svg>
</body></html>
